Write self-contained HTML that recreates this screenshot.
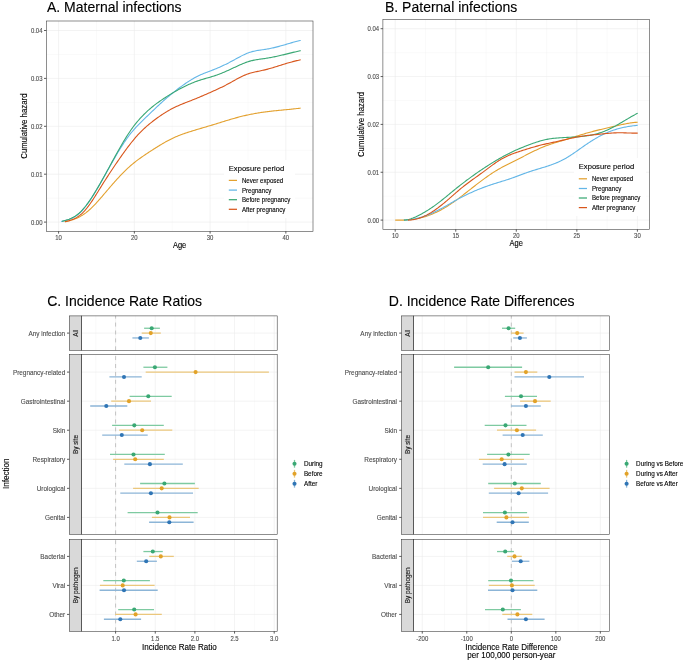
<!DOCTYPE html>
<html><head><meta charset="utf-8"><style>
html,body{margin:0;padding:0;background:#fff;}
svg{display:block;}
text{font-family:"Liberation Sans", sans-serif;}
svg{will-change:transform;}

</style></head><body>
<svg width="685" height="662" viewBox="0 0 685 662" font-family='"Liberation Sans", sans-serif'>
<rect width="685" height="662" fill="#fff"/>
<text x="47.00" y="11.50" font-size="14.9" fill="#000" text-anchor="start" stroke="#000" stroke-width="0.12" textLength="134.62" lengthAdjust="spacingAndGlyphs">A. Maternal infections</text>
<line x1="46.30" y1="198.15" x2="313.00" y2="198.15" stroke="#F2F2F2" stroke-width="0.4"/>
<line x1="46.30" y1="150.25" x2="313.00" y2="150.25" stroke="#F2F2F2" stroke-width="0.4"/>
<line x1="46.30" y1="102.35" x2="313.00" y2="102.35" stroke="#F2F2F2" stroke-width="0.4"/>
<line x1="46.30" y1="54.45" x2="313.00" y2="54.45" stroke="#F2F2F2" stroke-width="0.4"/>
<line x1="96.47" y1="21.00" x2="96.47" y2="231.30" stroke="#F2F2F2" stroke-width="0.4"/>
<line x1="172.22" y1="21.00" x2="172.22" y2="231.30" stroke="#F2F2F2" stroke-width="0.4"/>
<line x1="247.97" y1="21.00" x2="247.97" y2="231.30" stroke="#F2F2F2" stroke-width="0.4"/>
<line x1="46.30" y1="222.10" x2="313.00" y2="222.10" stroke="#EBEBEB" stroke-width="0.6"/>
<line x1="46.30" y1="174.20" x2="313.00" y2="174.20" stroke="#EBEBEB" stroke-width="0.6"/>
<line x1="46.30" y1="126.30" x2="313.00" y2="126.30" stroke="#EBEBEB" stroke-width="0.6"/>
<line x1="46.30" y1="78.40" x2="313.00" y2="78.40" stroke="#EBEBEB" stroke-width="0.6"/>
<line x1="46.30" y1="30.50" x2="313.00" y2="30.50" stroke="#EBEBEB" stroke-width="0.6"/>
<line x1="58.60" y1="21.00" x2="58.60" y2="231.30" stroke="#EBEBEB" stroke-width="0.6"/>
<line x1="134.35" y1="21.00" x2="134.35" y2="231.30" stroke="#EBEBEB" stroke-width="0.6"/>
<line x1="210.10" y1="21.00" x2="210.10" y2="231.30" stroke="#EBEBEB" stroke-width="0.6"/>
<line x1="285.85" y1="21.00" x2="285.85" y2="231.30" stroke="#EBEBEB" stroke-width="0.6"/>
<rect x="224" y="160" width="71" height="58" fill="#fff"/>
<path d="M64.80,221.80 L65.80,221.60 L66.80,221.38 L67.80,221.15 L68.80,220.90 L69.80,220.63 L70.80,220.34 L71.80,220.04 L72.80,219.71 L73.80,219.36 L74.80,218.98 L75.80,218.57 L76.80,218.14 L77.80,217.69 L78.80,217.20 L79.80,216.68 L80.80,216.12 L81.80,215.53 L82.80,214.91 L83.80,214.25 L84.80,213.56 L85.80,212.82 L86.80,212.04 L87.80,211.23 L88.80,210.37 L89.80,209.48 L90.80,208.56 L91.80,207.60 L92.80,206.62 L93.80,205.60 L94.80,204.57 L95.80,203.51 L96.80,202.42 L97.80,201.32 L98.80,200.20 L99.80,199.07 L100.80,197.93 L101.80,196.77 L102.80,195.61 L103.80,194.44 L104.80,193.26 L105.80,192.09 L106.80,190.91 L107.80,189.74 L108.80,188.57 L109.80,187.40 L110.80,186.24 L111.80,185.09 L112.80,183.94 L113.80,182.81 L114.80,181.68 L115.80,180.56 L116.80,179.45 L117.80,178.36 L118.80,177.27 L119.80,176.20 L120.80,175.14 L121.80,174.10 L122.80,173.07 L123.80,172.06 L124.80,171.07 L125.80,170.10 L126.80,169.14 L127.80,168.20 L128.80,167.29 L129.80,166.39 L130.80,165.52 L131.80,164.67 L132.80,163.83 L133.80,163.02 L134.80,162.22 L135.80,161.43 L136.80,160.67 L137.80,159.91 L138.80,159.17 L139.80,158.45 L140.80,157.73 L141.80,157.03 L142.80,156.33 L143.80,155.65 L144.80,154.97 L145.80,154.30 L146.80,153.63 L147.80,152.97 L148.80,152.31 L149.80,151.66 L150.80,151.01 L151.80,150.36 L152.80,149.72 L153.80,149.07 L154.80,148.43 L155.80,147.80 L156.80,147.17 L157.80,146.54 L158.80,145.92 L159.80,145.31 L160.80,144.70 L161.80,144.10 L162.80,143.51 L163.80,142.93 L164.80,142.36 L165.80,141.79 L166.80,141.24 L167.80,140.70 L168.80,140.17 L169.80,139.66 L170.80,139.15 L171.80,138.66 L172.80,138.19 L173.80,137.72 L174.80,137.27 L175.80,136.84 L176.80,136.41 L177.80,136.00 L178.80,135.60 L179.80,135.21 L180.80,134.82 L181.80,134.45 L182.80,134.09 L183.80,133.73 L184.80,133.38 L185.80,133.04 L186.80,132.71 L187.80,132.38 L188.80,132.05 L189.80,131.73 L190.80,131.42 L191.80,131.11 L192.80,130.80 L193.80,130.49 L194.80,130.19 L195.80,129.89 L196.80,129.59 L197.80,129.29 L198.80,128.99 L199.80,128.70 L200.80,128.40 L201.80,128.11 L202.80,127.81 L203.80,127.52 L204.80,127.22 L205.80,126.93 L206.80,126.64 L207.80,126.34 L208.80,126.05 L209.80,125.75 L210.80,125.45 L211.80,125.15 L212.80,124.85 L213.80,124.55 L214.80,124.25 L215.80,123.94 L216.80,123.63 L217.80,123.32 L218.80,123.01 L219.80,122.70 L220.80,122.39 L221.80,122.08 L222.80,121.77 L223.80,121.46 L224.80,121.15 L225.80,120.84 L226.80,120.53 L227.80,120.23 L228.80,119.92 L229.80,119.62 L230.80,119.32 L231.80,119.03 L232.80,118.74 L233.80,118.45 L234.80,118.17 L235.80,117.89 L236.80,117.62 L237.80,117.35 L238.80,117.08 L239.80,116.82 L240.80,116.57 L241.80,116.32 L242.80,116.08 L243.80,115.84 L244.80,115.61 L245.80,115.38 L246.80,115.15 L247.80,114.94 L248.80,114.72 L249.80,114.51 L250.80,114.31 L251.80,114.11 L252.80,113.92 L253.80,113.73 L254.80,113.55 L255.80,113.37 L256.80,113.20 L257.80,113.03 L258.80,112.87 L259.80,112.71 L260.80,112.56 L261.80,112.41 L262.80,112.27 L263.80,112.13 L264.80,111.99 L265.80,111.86 L266.80,111.73 L267.80,111.61 L268.80,111.49 L269.80,111.37 L270.80,111.25 L271.80,111.14 L272.80,111.03 L273.80,110.92 L274.80,110.82 L275.80,110.71 L276.80,110.61 L277.80,110.51 L278.80,110.41 L279.80,110.31 L280.80,110.21 L281.80,110.11 L282.80,110.02 L283.80,109.92 L284.80,109.82 L285.80,109.72 L286.80,109.63 L287.80,109.53 L288.80,109.43 L289.80,109.33 L290.80,109.23 L291.80,109.12 L292.80,109.02 L293.80,108.91 L294.80,108.80 L295.80,108.69 L296.80,108.57 L297.80,108.45 L298.80,108.33 L299.80,108.21 L300.60,108.10" fill="none" stroke="#E3A12F" stroke-width="1.1" stroke-linejoin="round" stroke-linecap="butt"/>
<path d="M61.10,221.50 L62.10,221.28 L63.10,221.05 L64.10,220.82 L65.10,220.57 L66.10,220.31 L67.10,220.03 L68.10,219.73 L69.10,219.40 L70.10,219.03 L71.10,218.63 L72.10,218.18 L73.10,217.69 L74.10,217.15 L75.10,216.55 L76.10,215.90 L77.10,215.18 L78.10,214.39 L79.10,213.53 L80.10,212.61 L81.10,211.61 L82.10,210.55 L83.10,209.43 L84.10,208.25 L85.10,207.02 L86.10,205.73 L87.10,204.39 L88.10,203.00 L89.10,201.58 L90.10,200.10 L91.10,198.59 L92.10,197.05 L93.10,195.47 L94.10,193.86 L95.10,192.22 L96.10,190.56 L97.10,188.88 L98.10,187.18 L99.10,185.46 L100.10,183.72 L101.10,181.97 L102.10,180.21 L103.10,178.43 L104.10,176.65 L105.10,174.87 L106.10,173.08 L107.10,171.29 L108.10,169.50 L109.10,167.71 L110.10,165.93 L111.10,164.15 L112.10,162.39 L113.10,160.63 L114.10,158.89 L115.10,157.16 L116.10,155.45 L117.10,153.76 L118.10,152.08 L119.10,150.43 L120.10,148.80 L121.10,147.20 L122.10,145.62 L123.10,144.08 L124.10,142.56 L125.10,141.08 L126.10,139.63 L127.10,138.21 L128.10,136.84 L129.10,135.50 L130.10,134.20 L131.10,132.95 L132.10,131.73 L133.10,130.55 L134.10,129.40 L135.10,128.28 L136.10,127.18 L137.10,126.12 L138.10,125.07 L139.10,124.05 L140.10,123.04 L141.10,122.05 L142.10,121.07 L143.10,120.10 L144.10,119.14 L145.10,118.18 L146.10,117.22 L147.10,116.26 L148.10,115.30 L149.10,114.34 L150.10,113.38 L151.10,112.42 L152.10,111.46 L153.10,110.51 L154.10,109.55 L155.10,108.60 L156.10,107.65 L157.10,106.71 L158.10,105.77 L159.10,104.84 L160.10,103.91 L161.10,102.99 L162.10,102.08 L163.10,101.18 L164.10,100.28 L165.10,99.40 L166.10,98.53 L167.10,97.66 L168.10,96.81 L169.10,95.96 L170.10,95.13 L171.10,94.30 L172.10,93.49 L173.10,92.68 L174.10,91.89 L175.10,91.10 L176.10,90.32 L177.10,89.55 L178.10,88.79 L179.10,88.04 L180.10,87.30 L181.10,86.57 L182.10,85.85 L183.10,85.13 L184.10,84.43 L185.10,83.74 L186.10,83.06 L187.10,82.39 L188.10,81.74 L189.10,81.09 L190.10,80.47 L191.10,79.85 L192.10,79.25 L193.10,78.67 L194.10,78.10 L195.10,77.55 L196.10,77.02 L197.10,76.50 L198.10,76.00 L199.10,75.52 L200.10,75.06 L201.10,74.62 L202.10,74.18 L203.10,73.76 L204.10,73.35 L205.10,72.95 L206.10,72.56 L207.10,72.17 L208.10,71.79 L209.10,71.41 L210.10,71.03 L211.10,70.65 L212.10,70.27 L213.10,69.88 L214.10,69.49 L215.10,69.09 L216.10,68.68 L217.10,68.27 L218.10,67.84 L219.10,67.41 L220.10,66.97 L221.10,66.52 L222.10,66.06 L223.10,65.59 L224.10,65.12 L225.10,64.63 L226.10,64.14 L227.10,63.64 L228.10,63.14 L229.10,62.62 L230.10,62.10 L231.10,61.57 L232.10,61.04 L233.10,60.49 L234.10,59.94 L235.10,59.39 L236.10,58.84 L237.10,58.28 L238.10,57.74 L239.10,57.19 L240.10,56.66 L241.10,56.13 L242.10,55.62 L243.10,55.12 L244.10,54.64 L245.10,54.18 L246.10,53.74 L247.10,53.32 L248.10,52.93 L249.10,52.57 L250.10,52.23 L251.10,51.93 L252.10,51.65 L253.10,51.40 L254.10,51.17 L255.10,50.96 L256.10,50.76 L257.10,50.58 L258.10,50.41 L259.10,50.25 L260.10,50.10 L261.10,49.95 L262.10,49.81 L263.10,49.67 L264.10,49.52 L265.10,49.37 L266.10,49.21 L267.10,49.04 L268.10,48.87 L269.10,48.68 L270.10,48.48 L271.10,48.28 L272.10,48.06 L273.10,47.84 L274.10,47.61 L275.10,47.37 L276.10,47.13 L277.10,46.87 L278.10,46.61 L279.10,46.35 L280.10,46.08 L281.10,45.80 L282.10,45.52 L283.10,45.24 L284.10,44.95 L285.10,44.66 L286.10,44.37 L287.10,44.07 L288.10,43.77 L289.10,43.48 L290.10,43.18 L291.10,42.89 L292.10,42.61 L293.10,42.32 L294.10,42.05 L295.10,41.77 L296.10,41.51 L297.10,41.26 L298.10,41.01 L299.10,40.78 L300.10,40.55 L300.70,40.42" fill="none" stroke="#63B6E7" stroke-width="1.1" stroke-linejoin="round" stroke-linecap="butt"/>
<path d="M62.10,221.40 L63.10,221.12 L64.10,220.83 L65.10,220.53 L66.10,220.22 L67.10,219.89 L68.10,219.54 L69.10,219.16 L70.10,218.75 L71.10,218.32 L72.10,217.84 L73.10,217.33 L74.10,216.76 L75.10,216.16 L76.10,215.49 L77.10,214.78 L78.10,214.00 L79.10,213.16 L80.10,212.25 L81.10,211.27 L82.10,210.23 L83.10,209.13 L84.10,207.98 L85.10,206.76 L86.10,205.50 L87.10,204.18 L88.10,202.82 L89.10,201.41 L90.10,199.96 L91.10,198.47 L92.10,196.94 L93.10,195.37 L94.10,193.78 L95.10,192.15 L96.10,190.50 L97.10,188.82 L98.10,187.12 L99.10,185.39 L100.10,183.65 L101.10,181.89 L102.10,180.12 L103.10,178.33 L104.10,176.53 L105.10,174.71 L106.10,172.89 L107.10,171.06 L108.10,169.23 L109.10,167.39 L110.10,165.55 L111.10,163.71 L112.10,161.87 L113.10,160.04 L114.10,158.21 L115.10,156.38 L116.10,154.57 L117.10,152.76 L118.10,150.97 L119.10,149.20 L120.10,147.44 L121.10,145.70 L122.10,143.98 L123.10,142.28 L124.10,140.61 L125.10,138.97 L126.10,137.36 L127.10,135.77 L128.10,134.22 L129.10,132.71 L130.10,131.23 L131.10,129.79 L132.10,128.39 L133.10,127.02 L134.10,125.70 L135.10,124.41 L136.10,123.15 L137.10,121.93 L138.10,120.74 L139.10,119.59 L140.10,118.46 L141.10,117.36 L142.10,116.30 L143.10,115.26 L144.10,114.25 L145.10,113.27 L146.10,112.31 L147.10,111.37 L148.10,110.46 L149.10,109.57 L150.10,108.71 L151.10,107.86 L152.10,107.03 L153.10,106.23 L154.10,105.44 L155.10,104.66 L156.10,103.91 L157.10,103.17 L158.10,102.44 L159.10,101.72 L160.10,101.02 L161.10,100.33 L162.10,99.65 L163.10,98.98 L164.10,98.32 L165.10,97.67 L166.10,97.02 L167.10,96.38 L168.10,95.75 L169.10,95.12 L170.10,94.51 L171.10,93.90 L172.10,93.30 L173.10,92.70 L174.10,92.12 L175.10,91.54 L176.10,90.97 L177.10,90.41 L178.10,89.86 L179.10,89.31 L180.10,88.78 L181.10,88.25 L182.10,87.73 L183.10,87.22 L184.10,86.72 L185.10,86.22 L186.10,85.74 L187.10,85.27 L188.10,84.80 L189.10,84.35 L190.10,83.91 L191.10,83.48 L192.10,83.05 L193.10,82.64 L194.10,82.25 L195.10,81.86 L196.10,81.49 L197.10,81.12 L198.10,80.77 L199.10,80.44 L200.10,80.11 L201.10,79.80 L202.10,79.49 L203.10,79.19 L204.10,78.90 L205.10,78.61 L206.10,78.32 L207.10,78.04 L208.10,77.76 L209.10,77.47 L210.10,77.18 L211.10,76.89 L212.10,76.58 L213.10,76.28 L214.10,75.96 L215.10,75.63 L216.10,75.29 L217.10,74.93 L218.10,74.57 L219.10,74.19 L220.10,73.80 L221.10,73.41 L222.10,73.00 L223.10,72.58 L224.10,72.16 L225.10,71.73 L226.10,71.29 L227.10,70.84 L228.10,70.39 L229.10,69.94 L230.10,69.48 L231.10,69.01 L232.10,68.55 L233.10,68.08 L234.10,67.61 L235.10,67.13 L236.10,66.67 L237.10,66.20 L238.10,65.74 L239.10,65.28 L240.10,64.83 L241.10,64.40 L242.10,63.97 L243.10,63.55 L244.10,63.15 L245.10,62.76 L246.10,62.39 L247.10,62.04 L248.10,61.71 L249.10,61.40 L250.10,61.11 L251.10,60.84 L252.10,60.59 L253.10,60.37 L254.10,60.16 L255.10,59.96 L256.10,59.78 L257.10,59.61 L258.10,59.45 L259.10,59.30 L260.10,59.15 L261.10,59.01 L262.10,58.87 L263.10,58.73 L264.10,58.59 L265.10,58.44 L266.10,58.30 L267.10,58.14 L268.10,57.98 L269.10,57.81 L270.10,57.63 L271.10,57.45 L272.10,57.26 L273.10,57.06 L274.10,56.86 L275.10,56.65 L276.10,56.44 L277.10,56.22 L278.10,56.00 L279.10,55.78 L280.10,55.55 L281.10,55.32 L282.10,55.08 L283.10,54.85 L284.10,54.61 L285.10,54.36 L286.10,54.12 L287.10,53.88 L288.10,53.63 L289.10,53.38 L290.10,53.14 L291.10,52.89 L292.10,52.64 L293.10,52.40 L294.10,52.15 L295.10,51.91 L296.10,51.67 L297.10,51.43 L298.10,51.20 L299.10,50.96 L300.10,50.73 L300.70,50.60" fill="none" stroke="#3AA874" stroke-width="1.1" stroke-linejoin="round" stroke-linecap="butt"/>
<path d="M64.80,221.80 L65.80,221.55 L66.80,221.29 L67.80,221.01 L68.80,220.73 L69.80,220.42 L70.80,220.09 L71.80,219.73 L72.80,219.33 L73.80,218.91 L74.80,218.44 L75.80,217.92 L76.80,217.36 L77.80,216.74 L78.80,216.07 L79.80,215.34 L80.80,214.54 L81.80,213.67 L82.80,212.73 L83.80,211.72 L84.80,210.63 L85.80,209.47 L86.80,208.24 L87.80,206.96 L88.80,205.62 L89.80,204.24 L90.80,202.80 L91.80,201.33 L92.80,199.83 L93.80,198.29 L94.80,196.73 L95.80,195.15 L96.80,193.55 L97.80,191.94 L98.80,190.33 L99.80,188.71 L100.80,187.10 L101.80,185.50 L102.80,183.91 L103.80,182.32 L104.80,180.75 L105.80,179.19 L106.80,177.63 L107.80,176.09 L108.80,174.56 L109.80,173.03 L110.80,171.51 L111.80,170.01 L112.80,168.51 L113.80,167.02 L114.80,165.54 L115.80,164.06 L116.80,162.60 L117.80,161.15 L118.80,159.70 L119.80,158.26 L120.80,156.83 L121.80,155.41 L122.80,154.00 L123.80,152.60 L124.80,151.22 L125.80,149.85 L126.80,148.50 L127.80,147.16 L128.80,145.85 L129.80,144.55 L130.80,143.27 L131.80,142.01 L132.80,140.78 L133.80,139.57 L134.80,138.38 L135.80,137.22 L136.80,136.09 L137.80,134.98 L138.80,133.91 L139.80,132.86 L140.80,131.84 L141.80,130.84 L142.80,129.87 L143.80,128.92 L144.80,128.00 L145.80,127.09 L146.80,126.21 L147.80,125.35 L148.80,124.50 L149.80,123.68 L150.80,122.87 L151.80,122.07 L152.80,121.29 L153.80,120.52 L154.80,119.77 L155.80,119.03 L156.80,118.29 L157.80,117.57 L158.80,116.86 L159.80,116.17 L160.80,115.48 L161.80,114.81 L162.80,114.14 L163.80,113.50 L164.80,112.86 L165.80,112.24 L166.80,111.63 L167.80,111.03 L168.80,110.45 L169.80,109.89 L170.80,109.34 L171.80,108.80 L172.80,108.28 L173.80,107.77 L174.80,107.28 L175.80,106.80 L176.80,106.34 L177.80,105.89 L178.80,105.45 L179.80,105.02 L180.80,104.60 L181.80,104.18 L182.80,103.78 L183.80,103.38 L184.80,102.98 L185.80,102.59 L186.80,102.20 L187.80,101.81 L188.80,101.42 L189.80,101.03 L190.80,100.64 L191.80,100.25 L192.80,99.86 L193.80,99.45 L194.80,99.05 L195.80,98.64 L196.80,98.23 L197.80,97.82 L198.80,97.40 L199.80,96.98 L200.80,96.56 L201.80,96.13 L202.80,95.70 L203.80,95.27 L204.80,94.84 L205.80,94.41 L206.80,93.97 L207.80,93.53 L208.80,93.09 L209.80,92.65 L210.80,92.21 L211.80,91.76 L212.80,91.32 L213.80,90.87 L214.80,90.42 L215.80,89.96 L216.80,89.50 L217.80,89.04 L218.80,88.57 L219.80,88.10 L220.80,87.62 L221.80,87.14 L222.80,86.64 L223.80,86.14 L224.80,85.64 L225.80,85.12 L226.80,84.60 L227.80,84.07 L228.80,83.53 L229.80,82.98 L230.80,82.42 L231.80,81.86 L232.80,81.30 L233.80,80.74 L234.80,80.18 L235.80,79.62 L236.80,79.07 L237.80,78.53 L238.80,77.99 L239.80,77.47 L240.80,76.97 L241.80,76.47 L242.80,76.00 L243.80,75.55 L244.80,75.12 L245.80,74.71 L246.80,74.33 L247.80,73.97 L248.80,73.64 L249.80,73.33 L250.80,73.04 L251.80,72.77 L252.80,72.51 L253.80,72.27 L254.80,72.03 L255.80,71.81 L256.80,71.59 L257.80,71.38 L258.80,71.17 L259.80,70.96 L260.80,70.75 L261.80,70.54 L262.80,70.32 L263.80,70.10 L264.80,69.86 L265.80,69.62 L266.80,69.36 L267.80,69.10 L268.80,68.82 L269.80,68.54 L270.80,68.26 L271.80,67.96 L272.80,67.66 L273.80,67.36 L274.80,67.05 L275.80,66.74 L276.80,66.43 L277.80,66.11 L278.80,65.80 L279.80,65.48 L280.80,65.17 L281.80,64.86 L282.80,64.54 L283.80,64.24 L284.80,63.93 L285.80,63.63 L286.80,63.33 L287.80,63.04 L288.80,62.75 L289.80,62.47 L290.80,62.19 L291.80,61.92 L292.80,61.65 L293.80,61.39 L294.80,61.14 L295.80,60.89 L296.80,60.65 L297.80,60.43 L298.80,60.20 L299.80,59.99 L300.70,59.81" fill="none" stroke="#D8561C" stroke-width="1.1" stroke-linejoin="round" stroke-linecap="butt"/>
<rect x="46.3" y="21.0" width="266.7" height="210.3" fill="none" stroke="#333333" stroke-width="0.55"/>
<line x1="44.00" y1="222.10" x2="46.30" y2="222.10" stroke="#333333" stroke-width="0.8"/>
<text x="42.50" y="224.60" font-size="6.8" fill="#4D4D4D" text-anchor="end" stroke="#4D4D4D" stroke-width="0.12" textLength="11.58" lengthAdjust="spacingAndGlyphs">0.00</text>
<line x1="44.00" y1="174.20" x2="46.30" y2="174.20" stroke="#333333" stroke-width="0.8"/>
<text x="42.50" y="176.70" font-size="6.8" fill="#4D4D4D" text-anchor="end" stroke="#4D4D4D" stroke-width="0.12" textLength="11.58" lengthAdjust="spacingAndGlyphs">0.01</text>
<line x1="44.00" y1="126.30" x2="46.30" y2="126.30" stroke="#333333" stroke-width="0.8"/>
<text x="42.50" y="128.80" font-size="6.8" fill="#4D4D4D" text-anchor="end" stroke="#4D4D4D" stroke-width="0.12" textLength="11.58" lengthAdjust="spacingAndGlyphs">0.02</text>
<line x1="44.00" y1="78.40" x2="46.30" y2="78.40" stroke="#333333" stroke-width="0.8"/>
<text x="42.50" y="80.90" font-size="6.8" fill="#4D4D4D" text-anchor="end" stroke="#4D4D4D" stroke-width="0.12" textLength="11.58" lengthAdjust="spacingAndGlyphs">0.03</text>
<line x1="44.00" y1="30.50" x2="46.30" y2="30.50" stroke="#333333" stroke-width="0.8"/>
<text x="42.50" y="33.00" font-size="6.8" fill="#4D4D4D" text-anchor="end" stroke="#4D4D4D" stroke-width="0.12" textLength="11.58" lengthAdjust="spacingAndGlyphs">0.04</text>
<line x1="58.60" y1="231.30" x2="58.60" y2="233.60" stroke="#333333" stroke-width="0.8"/>
<text x="58.60" y="239.60" font-size="6.8" fill="#4D4D4D" text-anchor="middle" stroke="#4D4D4D" stroke-width="0.12" textLength="6.62" lengthAdjust="spacingAndGlyphs">10</text>
<line x1="134.35" y1="231.30" x2="134.35" y2="233.60" stroke="#333333" stroke-width="0.8"/>
<text x="134.35" y="239.60" font-size="6.8" fill="#4D4D4D" text-anchor="middle" stroke="#4D4D4D" stroke-width="0.12" textLength="6.62" lengthAdjust="spacingAndGlyphs">20</text>
<line x1="210.10" y1="231.30" x2="210.10" y2="233.60" stroke="#333333" stroke-width="0.8"/>
<text x="210.10" y="239.60" font-size="6.8" fill="#4D4D4D" text-anchor="middle" stroke="#4D4D4D" stroke-width="0.12" textLength="6.62" lengthAdjust="spacingAndGlyphs">30</text>
<line x1="285.85" y1="231.30" x2="285.85" y2="233.60" stroke="#333333" stroke-width="0.8"/>
<text x="285.85" y="239.60" font-size="6.8" fill="#4D4D4D" text-anchor="middle" stroke="#4D4D4D" stroke-width="0.12" textLength="6.62" lengthAdjust="spacingAndGlyphs">40</text>
<text x="179.55" y="247.80" font-size="8.3" fill="#000" text-anchor="middle" stroke="#000" stroke-width="0.12" textLength="13.34" lengthAdjust="spacingAndGlyphs">Age</text>
<text x="27.50" y="126.15" font-size="8.5" fill="#000" text-anchor="middle" transform="rotate(-90 27.50 126.15)" stroke="#000" stroke-width="0.12" textLength="65.28" lengthAdjust="spacingAndGlyphs">Cumulative hazard</text>
<text x="228.80" y="171.00" font-size="8.1" fill="#000" text-anchor="start" stroke="#000" stroke-width="0.12" textLength="55.35" lengthAdjust="spacingAndGlyphs">Exposure period</text>
<line x1="228.80" y1="180.40" x2="237.00" y2="180.40" stroke="#E3A12F" stroke-width="1.25"/>
<text x="241.90" y="182.80" font-size="7.0" fill="#000" text-anchor="start" stroke="#000" stroke-width="0.12" textLength="41.37" lengthAdjust="spacingAndGlyphs">Never exposed</text>
<line x1="228.80" y1="190.10" x2="237.00" y2="190.10" stroke="#63B6E7" stroke-width="1.25"/>
<text x="241.90" y="192.50" font-size="7.0" fill="#000" text-anchor="start" stroke="#000" stroke-width="0.12" textLength="29.40" lengthAdjust="spacingAndGlyphs">Pregnancy</text>
<line x1="228.80" y1="199.70" x2="237.00" y2="199.70" stroke="#3AA874" stroke-width="1.25"/>
<text x="241.90" y="202.10" font-size="7.0" fill="#000" text-anchor="start" stroke="#000" stroke-width="0.12" textLength="48.55" lengthAdjust="spacingAndGlyphs">Before pregnancy</text>
<line x1="228.80" y1="209.30" x2="237.00" y2="209.30" stroke="#D8561C" stroke-width="1.25"/>
<text x="241.90" y="211.70" font-size="7.0" fill="#000" text-anchor="start" stroke="#000" stroke-width="0.12" textLength="43.42" lengthAdjust="spacingAndGlyphs">After pregnancy</text>
<text x="385.00" y="11.50" font-size="14.9" fill="#000" text-anchor="start" stroke="#000" stroke-width="0.12" textLength="132.30" lengthAdjust="spacingAndGlyphs">B. Paternal infections</text>
<line x1="382.90" y1="196.17" x2="649.50" y2="196.17" stroke="#F2F2F2" stroke-width="0.4"/>
<line x1="382.90" y1="148.32" x2="649.50" y2="148.32" stroke="#F2F2F2" stroke-width="0.4"/>
<line x1="382.90" y1="100.47" x2="649.50" y2="100.47" stroke="#F2F2F2" stroke-width="0.4"/>
<line x1="382.90" y1="52.62" x2="649.50" y2="52.62" stroke="#F2F2F2" stroke-width="0.4"/>
<line x1="425.47" y1="19.40" x2="425.47" y2="229.40" stroke="#F2F2F2" stroke-width="0.4"/>
<line x1="486.02" y1="19.40" x2="486.02" y2="229.40" stroke="#F2F2F2" stroke-width="0.4"/>
<line x1="546.58" y1="19.40" x2="546.58" y2="229.40" stroke="#F2F2F2" stroke-width="0.4"/>
<line x1="607.12" y1="19.40" x2="607.12" y2="229.40" stroke="#F2F2F2" stroke-width="0.4"/>
<line x1="382.90" y1="220.10" x2="649.50" y2="220.10" stroke="#EBEBEB" stroke-width="0.6"/>
<line x1="382.90" y1="172.25" x2="649.50" y2="172.25" stroke="#EBEBEB" stroke-width="0.6"/>
<line x1="382.90" y1="124.40" x2="649.50" y2="124.40" stroke="#EBEBEB" stroke-width="0.6"/>
<line x1="382.90" y1="76.55" x2="649.50" y2="76.55" stroke="#EBEBEB" stroke-width="0.6"/>
<line x1="382.90" y1="28.70" x2="649.50" y2="28.70" stroke="#EBEBEB" stroke-width="0.6"/>
<line x1="395.20" y1="19.40" x2="395.20" y2="229.40" stroke="#EBEBEB" stroke-width="0.6"/>
<line x1="455.75" y1="19.40" x2="455.75" y2="229.40" stroke="#EBEBEB" stroke-width="0.6"/>
<line x1="516.30" y1="19.40" x2="516.30" y2="229.40" stroke="#EBEBEB" stroke-width="0.6"/>
<line x1="576.85" y1="19.40" x2="576.85" y2="229.40" stroke="#EBEBEB" stroke-width="0.6"/>
<line x1="637.40" y1="19.40" x2="637.40" y2="229.40" stroke="#EBEBEB" stroke-width="0.6"/>
<rect x="574" y="158" width="72" height="58" fill="#fff"/>
<path d="M395.20,220.10 L404.00,220.09 L405.00,220.06 L406.00,220.02 L407.00,219.96 L408.00,219.90 L409.00,219.81 L410.00,219.72 L411.00,219.61 L412.00,219.49 L413.00,219.36 L414.00,219.21 L415.00,219.05 L416.00,218.87 L417.00,218.68 L418.00,218.48 L419.00,218.26 L420.00,218.03 L421.00,217.79 L422.00,217.53 L423.00,217.25 L424.00,216.97 L425.00,216.66 L426.00,216.35 L427.00,216.02 L428.00,215.67 L429.00,215.31 L430.00,214.94 L431.00,214.55 L432.00,214.15 L433.00,213.73 L434.00,213.30 L435.00,212.85 L436.00,212.39 L437.00,211.92 L438.00,211.43 L439.00,210.93 L440.00,210.42 L441.00,209.89 L442.00,209.34 L443.00,208.79 L444.00,208.21 L445.00,207.63 L446.00,207.03 L447.00,206.42 L448.00,205.79 L449.00,205.15 L450.00,204.49 L451.00,203.83 L452.00,203.15 L453.00,202.46 L454.00,201.76 L455.00,201.05 L456.00,200.33 L457.00,199.60 L458.00,198.86 L459.00,198.12 L460.00,197.36 L461.00,196.61 L462.00,195.84 L463.00,195.07 L464.00,194.30 L465.00,193.52 L466.00,192.74 L467.00,191.96 L468.00,191.18 L469.00,190.39 L470.00,189.61 L471.00,188.82 L472.00,188.04 L473.00,187.26 L474.00,186.48 L475.00,185.70 L476.00,184.92 L477.00,184.15 L478.00,183.38 L479.00,182.62 L480.00,181.86 L481.00,181.11 L482.00,180.36 L483.00,179.62 L484.00,178.89 L485.00,178.16 L486.00,177.44 L487.00,176.73 L488.00,176.02 L489.00,175.33 L490.00,174.65 L491.00,173.97 L492.00,173.31 L493.00,172.66 L494.00,172.02 L495.00,171.39 L496.00,170.77 L497.00,170.17 L498.00,169.57 L499.00,168.99 L500.00,168.42 L501.00,167.86 L502.00,167.31 L503.00,166.77 L504.00,166.23 L505.00,165.70 L506.00,165.18 L507.00,164.67 L508.00,164.16 L509.00,163.65 L510.00,163.15 L511.00,162.65 L512.00,162.15 L513.00,161.65 L514.00,161.16 L515.00,160.66 L516.00,160.17 L517.00,159.67 L518.00,159.17 L519.00,158.67 L520.00,158.17 L521.00,157.67 L522.00,157.16 L523.00,156.65 L524.00,156.13 L525.00,155.62 L526.00,155.11 L527.00,154.60 L528.00,154.09 L529.00,153.58 L530.00,153.08 L531.00,152.58 L532.00,152.08 L533.00,151.59 L534.00,151.10 L535.00,150.61 L536.00,150.14 L537.00,149.67 L538.00,149.21 L539.00,148.75 L540.00,148.31 L541.00,147.87 L542.00,147.45 L543.00,147.03 L544.00,146.63 L545.00,146.24 L546.00,145.86 L547.00,145.48 L548.00,145.12 L549.00,144.76 L550.00,144.42 L551.00,144.08 L552.00,143.74 L553.00,143.41 L554.00,143.09 L555.00,142.78 L556.00,142.46 L557.00,142.15 L558.00,141.85 L559.00,141.55 L560.00,141.25 L561.00,140.95 L562.00,140.65 L563.00,140.35 L564.00,140.05 L565.00,139.76 L566.00,139.46 L567.00,139.15 L568.00,138.85 L569.00,138.54 L570.00,138.24 L571.00,137.93 L572.00,137.62 L573.00,137.31 L574.00,137.00 L575.00,136.69 L576.00,136.37 L577.00,136.06 L578.00,135.75 L579.00,135.45 L580.00,135.14 L581.00,134.83 L582.00,134.53 L583.00,134.23 L584.00,133.93 L585.00,133.63 L586.00,133.34 L587.00,133.05 L588.00,132.77 L589.00,132.48 L590.00,132.21 L591.00,131.93 L592.00,131.67 L593.00,131.40 L594.00,131.14 L595.00,130.89 L596.00,130.63 L597.00,130.38 L598.00,130.14 L599.00,129.90 L600.00,129.65 L601.00,129.42 L602.00,129.18 L603.00,128.95 L604.00,128.71 L605.00,128.48 L606.00,128.25 L607.00,128.02 L608.00,127.79 L609.00,127.56 L610.00,127.33 L611.00,127.10 L612.00,126.87 L613.00,126.64 L614.00,126.41 L615.00,126.18 L616.00,125.95 L617.00,125.71 L618.00,125.48 L619.00,125.25 L620.00,125.02 L621.00,124.80 L622.00,124.58 L623.00,124.36 L624.00,124.15 L625.00,123.95 L626.00,123.75 L627.00,123.57 L628.00,123.38 L629.00,123.21 L630.00,123.05 L631.00,122.90 L632.00,122.76 L633.00,122.64 L634.00,122.52 L635.00,122.42 L636.00,122.34 L637.00,122.27 L637.70,122.23" fill="none" stroke="#E3A12F" stroke-width="1.1" stroke-linejoin="round" stroke-linecap="butt"/>
<path d="M404.00,220.10 L404.00,220.09 L405.00,220.06 L406.00,220.01 L407.00,219.94 L408.00,219.85 L409.00,219.75 L410.00,219.63 L411.00,219.49 L412.00,219.34 L413.00,219.17 L414.00,218.98 L415.00,218.78 L416.00,218.57 L417.00,218.34 L418.00,218.09 L419.00,217.83 L420.00,217.56 L421.00,217.27 L422.00,216.97 L423.00,216.66 L424.00,216.33 L425.00,215.99 L426.00,215.63 L427.00,215.26 L428.00,214.88 L429.00,214.48 L430.00,214.07 L431.00,213.65 L432.00,213.21 L433.00,212.77 L434.00,212.31 L435.00,211.83 L436.00,211.35 L437.00,210.85 L438.00,210.34 L439.00,209.82 L440.00,209.29 L441.00,208.75 L442.00,208.20 L443.00,207.64 L444.00,207.08 L445.00,206.51 L446.00,205.94 L447.00,205.36 L448.00,204.78 L449.00,204.20 L450.00,203.62 L451.00,203.05 L452.00,202.47 L453.00,201.90 L454.00,201.33 L455.00,200.76 L456.00,200.20 L457.00,199.65 L458.00,199.11 L459.00,198.57 L460.00,198.04 L461.00,197.51 L462.00,197.00 L463.00,196.48 L464.00,195.98 L465.00,195.48 L466.00,194.99 L467.00,194.51 L468.00,194.03 L469.00,193.56 L470.00,193.09 L471.00,192.63 L472.00,192.18 L473.00,191.73 L474.00,191.30 L475.00,190.86 L476.00,190.44 L477.00,190.02 L478.00,189.60 L479.00,189.20 L480.00,188.80 L481.00,188.40 L482.00,188.01 L483.00,187.63 L484.00,187.26 L485.00,186.88 L486.00,186.52 L487.00,186.16 L488.00,185.81 L489.00,185.46 L490.00,185.12 L491.00,184.78 L492.00,184.45 L493.00,184.13 L494.00,183.81 L495.00,183.49 L496.00,183.18 L497.00,182.87 L498.00,182.56 L499.00,182.25 L500.00,181.95 L501.00,181.64 L502.00,181.34 L503.00,181.03 L504.00,180.72 L505.00,180.40 L506.00,180.09 L507.00,179.77 L508.00,179.44 L509.00,179.11 L510.00,178.77 L511.00,178.43 L512.00,178.08 L513.00,177.72 L514.00,177.36 L515.00,176.99 L516.00,176.62 L517.00,176.25 L518.00,175.87 L519.00,175.50 L520.00,175.12 L521.00,174.75 L522.00,174.38 L523.00,174.01 L524.00,173.64 L525.00,173.27 L526.00,172.91 L527.00,172.56 L528.00,172.21 L529.00,171.87 L530.00,171.54 L531.00,171.21 L532.00,170.89 L533.00,170.58 L534.00,170.26 L535.00,169.95 L536.00,169.65 L537.00,169.35 L538.00,169.04 L539.00,168.74 L540.00,168.44 L541.00,168.14 L542.00,167.84 L543.00,167.53 L544.00,167.22 L545.00,166.91 L546.00,166.60 L547.00,166.28 L548.00,165.95 L549.00,165.62 L550.00,165.28 L551.00,164.93 L552.00,164.57 L553.00,164.21 L554.00,163.83 L555.00,163.44 L556.00,163.04 L557.00,162.62 L558.00,162.19 L559.00,161.75 L560.00,161.29 L561.00,160.82 L562.00,160.32 L563.00,159.81 L564.00,159.28 L565.00,158.73 L566.00,158.16 L567.00,157.57 L568.00,156.96 L569.00,156.34 L570.00,155.70 L571.00,155.05 L572.00,154.38 L573.00,153.71 L574.00,153.02 L575.00,152.33 L576.00,151.64 L577.00,150.93 L578.00,150.23 L579.00,149.52 L580.00,148.81 L581.00,148.11 L582.00,147.40 L583.00,146.70 L584.00,146.00 L585.00,145.32 L586.00,144.63 L587.00,143.95 L588.00,143.29 L589.00,142.62 L590.00,141.97 L591.00,141.33 L592.00,140.69 L593.00,140.07 L594.00,139.46 L595.00,138.85 L596.00,138.26 L597.00,137.69 L598.00,137.12 L599.00,136.57 L600.00,136.03 L601.00,135.51 L602.00,135.00 L603.00,134.50 L604.00,134.02 L605.00,133.56 L606.00,133.11 L607.00,132.67 L608.00,132.25 L609.00,131.84 L610.00,131.45 L611.00,131.07 L612.00,130.70 L613.00,130.35 L614.00,130.01 L615.00,129.69 L616.00,129.37 L617.00,129.07 L618.00,128.79 L619.00,128.51 L620.00,128.25 L621.00,128.00 L622.00,127.76 L623.00,127.53 L624.00,127.32 L625.00,127.11 L626.00,126.92 L627.00,126.73 L628.00,126.56 L629.00,126.39 L630.00,126.24 L631.00,126.09 L632.00,125.95 L633.00,125.82 L634.00,125.69 L635.00,125.58 L636.00,125.47 L637.00,125.36 L637.70,125.29" fill="none" stroke="#63B6E7" stroke-width="1.1" stroke-linejoin="round" stroke-linecap="butt"/>
<path d="M404.00,220.10 L404.00,220.10 L405.00,220.01 L406.00,219.89 L407.00,219.72 L408.00,219.51 L409.00,219.27 L410.00,218.99 L411.00,218.68 L412.00,218.33 L413.00,217.96 L414.00,217.56 L415.00,217.14 L416.00,216.70 L417.00,216.23 L418.00,215.75 L419.00,215.25 L420.00,214.73 L421.00,214.20 L422.00,213.66 L423.00,213.10 L424.00,212.53 L425.00,211.94 L426.00,211.34 L427.00,210.73 L428.00,210.11 L429.00,209.47 L430.00,208.82 L431.00,208.15 L432.00,207.48 L433.00,206.79 L434.00,206.08 L435.00,205.37 L436.00,204.64 L437.00,203.90 L438.00,203.15 L439.00,202.39 L440.00,201.62 L441.00,200.83 L442.00,200.04 L443.00,199.24 L444.00,198.44 L445.00,197.63 L446.00,196.81 L447.00,195.99 L448.00,195.17 L449.00,194.34 L450.00,193.52 L451.00,192.69 L452.00,191.87 L453.00,191.05 L454.00,190.23 L455.00,189.41 L456.00,188.60 L457.00,187.80 L458.00,187.00 L459.00,186.21 L460.00,185.42 L461.00,184.64 L462.00,183.86 L463.00,183.09 L464.00,182.33 L465.00,181.57 L466.00,180.81 L467.00,180.06 L468.00,179.32 L469.00,178.58 L470.00,177.85 L471.00,177.12 L472.00,176.40 L473.00,175.68 L474.00,174.97 L475.00,174.26 L476.00,173.56 L477.00,172.86 L478.00,172.17 L479.00,171.48 L480.00,170.80 L481.00,170.12 L482.00,169.45 L483.00,168.78 L484.00,168.12 L485.00,167.46 L486.00,166.81 L487.00,166.17 L488.00,165.53 L489.00,164.89 L490.00,164.26 L491.00,163.63 L492.00,163.01 L493.00,162.40 L494.00,161.79 L495.00,161.18 L496.00,160.59 L497.00,159.99 L498.00,159.41 L499.00,158.83 L500.00,158.25 L501.00,157.69 L502.00,157.13 L503.00,156.57 L504.00,156.03 L505.00,155.49 L506.00,154.96 L507.00,154.43 L508.00,153.92 L509.00,153.41 L510.00,152.92 L511.00,152.43 L512.00,151.94 L513.00,151.47 L514.00,151.01 L515.00,150.55 L516.00,150.10 L517.00,149.66 L518.00,149.22 L519.00,148.79 L520.00,148.37 L521.00,147.95 L522.00,147.54 L523.00,147.14 L524.00,146.74 L525.00,146.34 L526.00,145.95 L527.00,145.57 L528.00,145.18 L529.00,144.81 L530.00,144.43 L531.00,144.06 L532.00,143.70 L533.00,143.34 L534.00,142.99 L535.00,142.65 L536.00,142.31 L537.00,141.99 L538.00,141.67 L539.00,141.36 L540.00,141.06 L541.00,140.78 L542.00,140.51 L543.00,140.25 L544.00,140.00 L545.00,139.76 L546.00,139.55 L547.00,139.34 L548.00,139.15 L549.00,138.98 L550.00,138.82 L551.00,138.67 L552.00,138.54 L553.00,138.41 L554.00,138.30 L555.00,138.20 L556.00,138.10 L557.00,138.02 L558.00,137.94 L559.00,137.86 L560.00,137.80 L561.00,137.74 L562.00,137.68 L563.00,137.62 L564.00,137.57 L565.00,137.52 L566.00,137.47 L567.00,137.42 L568.00,137.37 L569.00,137.32 L570.00,137.27 L571.00,137.22 L572.00,137.16 L573.00,137.11 L574.00,137.05 L575.00,136.98 L576.00,136.92 L577.00,136.84 L578.00,136.77 L579.00,136.69 L580.00,136.60 L581.00,136.51 L582.00,136.41 L583.00,136.30 L584.00,136.18 L585.00,136.06 L586.00,135.93 L587.00,135.79 L588.00,135.64 L589.00,135.47 L590.00,135.30 L591.00,135.12 L592.00,134.92 L593.00,134.71 L594.00,134.49 L595.00,134.25 L596.00,134.00 L597.00,133.73 L598.00,133.45 L599.00,133.15 L600.00,132.83 L601.00,132.50 L602.00,132.15 L603.00,131.78 L604.00,131.39 L605.00,130.99 L606.00,130.57 L607.00,130.13 L608.00,129.68 L609.00,129.22 L610.00,128.74 L611.00,128.25 L612.00,127.75 L613.00,127.23 L614.00,126.71 L615.00,126.17 L616.00,125.62 L617.00,125.07 L618.00,124.51 L619.00,123.93 L620.00,123.35 L621.00,122.77 L622.00,122.18 L623.00,121.58 L624.00,120.99 L625.00,120.39 L626.00,119.79 L627.00,119.20 L628.00,118.60 L629.00,118.01 L630.00,117.43 L631.00,116.85 L632.00,116.28 L633.00,115.72 L634.00,115.17 L635.00,114.63 L636.00,114.10 L637.00,113.59 L637.70,113.24" fill="none" stroke="#3AA874" stroke-width="1.1" stroke-linejoin="round" stroke-linecap="butt"/>
<path d="M408.00,220.10 L408.00,220.10 L409.00,220.05 L410.00,219.98 L411.00,219.89 L412.00,219.77 L413.00,219.63 L414.00,219.45 L415.00,219.26 L416.00,219.04 L417.00,218.79 L418.00,218.52 L419.00,218.22 L420.00,217.89 L421.00,217.54 L422.00,217.16 L423.00,216.76 L424.00,216.33 L425.00,215.87 L426.00,215.39 L427.00,214.88 L428.00,214.34 L429.00,213.79 L430.00,213.20 L431.00,212.60 L432.00,211.98 L433.00,211.33 L434.00,210.67 L435.00,209.98 L436.00,209.28 L437.00,208.56 L438.00,207.82 L439.00,207.06 L440.00,206.30 L441.00,205.51 L442.00,204.71 L443.00,203.90 L444.00,203.08 L445.00,202.25 L446.00,201.40 L447.00,200.55 L448.00,199.69 L449.00,198.83 L450.00,197.96 L451.00,197.08 L452.00,196.21 L453.00,195.33 L454.00,194.45 L455.00,193.58 L456.00,192.71 L457.00,191.84 L458.00,190.98 L459.00,190.13 L460.00,189.28 L461.00,188.45 L462.00,187.62 L463.00,186.81 L464.00,186.02 L465.00,185.23 L466.00,184.46 L467.00,183.70 L468.00,182.94 L469.00,182.20 L470.00,181.47 L471.00,180.74 L472.00,180.01 L473.00,179.29 L474.00,178.58 L475.00,177.86 L476.00,177.15 L477.00,176.44 L478.00,175.72 L479.00,175.01 L480.00,174.29 L481.00,173.57 L482.00,172.84 L483.00,172.10 L484.00,171.36 L485.00,170.61 L486.00,169.86 L487.00,169.11 L488.00,168.36 L489.00,167.61 L490.00,166.86 L491.00,166.12 L492.00,165.38 L493.00,164.66 L494.00,163.94 L495.00,163.23 L496.00,162.54 L497.00,161.86 L498.00,161.20 L499.00,160.55 L500.00,159.93 L501.00,159.33 L502.00,158.74 L503.00,158.19 L504.00,157.65 L505.00,157.14 L506.00,156.65 L507.00,156.18 L508.00,155.72 L509.00,155.29 L510.00,154.87 L511.00,154.46 L512.00,154.07 L513.00,153.69 L514.00,153.32 L515.00,152.96 L516.00,152.61 L517.00,152.27 L518.00,151.94 L519.00,151.61 L520.00,151.28 L521.00,150.96 L522.00,150.63 L523.00,150.31 L524.00,150.00 L525.00,149.68 L526.00,149.36 L527.00,149.05 L528.00,148.74 L529.00,148.44 L530.00,148.13 L531.00,147.83 L532.00,147.54 L533.00,147.25 L534.00,146.96 L535.00,146.67 L536.00,146.39 L537.00,146.12 L538.00,145.85 L539.00,145.58 L540.00,145.33 L541.00,145.07 L542.00,144.82 L543.00,144.58 L544.00,144.35 L545.00,144.11 L546.00,143.88 L547.00,143.66 L548.00,143.44 L549.00,143.22 L550.00,143.00 L551.00,142.78 L552.00,142.57 L553.00,142.35 L554.00,142.14 L555.00,141.92 L556.00,141.71 L557.00,141.49 L558.00,141.27 L559.00,141.05 L560.00,140.83 L561.00,140.61 L562.00,140.38 L563.00,140.15 L564.00,139.92 L565.00,139.68 L566.00,139.45 L567.00,139.22 L568.00,138.99 L569.00,138.76 L570.00,138.53 L571.00,138.31 L572.00,138.08 L573.00,137.87 L574.00,137.66 L575.00,137.45 L576.00,137.25 L577.00,137.05 L578.00,136.87 L579.00,136.69 L580.00,136.52 L581.00,136.36 L582.00,136.20 L583.00,136.06 L584.00,135.92 L585.00,135.78 L586.00,135.65 L587.00,135.53 L588.00,135.41 L589.00,135.30 L590.00,135.19 L591.00,135.08 L592.00,134.98 L593.00,134.88 L594.00,134.78 L595.00,134.68 L596.00,134.58 L597.00,134.48 L598.00,134.38 L599.00,134.28 L600.00,134.17 L601.00,134.07 L602.00,133.96 L603.00,133.86 L604.00,133.76 L605.00,133.65 L606.00,133.55 L607.00,133.46 L608.00,133.36 L609.00,133.28 L610.00,133.19 L611.00,133.11 L612.00,133.04 L613.00,132.98 L614.00,132.92 L615.00,132.87 L616.00,132.83 L617.00,132.80 L618.00,132.77 L619.00,132.76 L620.00,132.76 L621.00,132.77 L622.00,132.79 L623.00,132.81 L624.00,132.84 L625.00,132.87 L626.00,132.90 L627.00,132.94 L628.00,132.97 L629.00,133.01 L630.00,133.04 L631.00,133.07 L632.00,133.09 L633.00,133.11 L634.00,133.12 L635.00,133.12 L636.00,133.11 L637.00,133.10 L637.70,133.08" fill="none" stroke="#D8561C" stroke-width="1.1" stroke-linejoin="round" stroke-linecap="butt"/>
<rect x="382.9" y="19.4" width="266.6" height="210.0" fill="none" stroke="#333333" stroke-width="0.55"/>
<line x1="380.60" y1="220.10" x2="382.90" y2="220.10" stroke="#333333" stroke-width="0.8"/>
<text x="379.10" y="222.60" font-size="6.8" fill="#4D4D4D" text-anchor="end" stroke="#4D4D4D" stroke-width="0.12" textLength="11.58" lengthAdjust="spacingAndGlyphs">0.00</text>
<line x1="380.60" y1="172.25" x2="382.90" y2="172.25" stroke="#333333" stroke-width="0.8"/>
<text x="379.10" y="174.75" font-size="6.8" fill="#4D4D4D" text-anchor="end" stroke="#4D4D4D" stroke-width="0.12" textLength="11.58" lengthAdjust="spacingAndGlyphs">0.01</text>
<line x1="380.60" y1="124.40" x2="382.90" y2="124.40" stroke="#333333" stroke-width="0.8"/>
<text x="379.10" y="126.90" font-size="6.8" fill="#4D4D4D" text-anchor="end" stroke="#4D4D4D" stroke-width="0.12" textLength="11.58" lengthAdjust="spacingAndGlyphs">0.02</text>
<line x1="380.60" y1="76.55" x2="382.90" y2="76.55" stroke="#333333" stroke-width="0.8"/>
<text x="379.10" y="79.05" font-size="6.8" fill="#4D4D4D" text-anchor="end" stroke="#4D4D4D" stroke-width="0.12" textLength="11.58" lengthAdjust="spacingAndGlyphs">0.03</text>
<line x1="380.60" y1="28.70" x2="382.90" y2="28.70" stroke="#333333" stroke-width="0.8"/>
<text x="379.10" y="31.20" font-size="6.8" fill="#4D4D4D" text-anchor="end" stroke="#4D4D4D" stroke-width="0.12" textLength="11.58" lengthAdjust="spacingAndGlyphs">0.04</text>
<line x1="395.20" y1="229.40" x2="395.20" y2="231.70" stroke="#333333" stroke-width="0.8"/>
<text x="395.20" y="237.80" font-size="6.8" fill="#4D4D4D" text-anchor="middle" stroke="#4D4D4D" stroke-width="0.12" textLength="6.62" lengthAdjust="spacingAndGlyphs">10</text>
<line x1="455.75" y1="229.40" x2="455.75" y2="231.70" stroke="#333333" stroke-width="0.8"/>
<text x="455.75" y="237.80" font-size="6.8" fill="#4D4D4D" text-anchor="middle" stroke="#4D4D4D" stroke-width="0.12" textLength="6.62" lengthAdjust="spacingAndGlyphs">15</text>
<line x1="516.30" y1="229.40" x2="516.30" y2="231.70" stroke="#333333" stroke-width="0.8"/>
<text x="516.30" y="237.80" font-size="6.8" fill="#4D4D4D" text-anchor="middle" stroke="#4D4D4D" stroke-width="0.12" textLength="6.62" lengthAdjust="spacingAndGlyphs">20</text>
<line x1="576.85" y1="229.40" x2="576.85" y2="231.70" stroke="#333333" stroke-width="0.8"/>
<text x="576.85" y="237.80" font-size="6.8" fill="#4D4D4D" text-anchor="middle" stroke="#4D4D4D" stroke-width="0.12" textLength="6.62" lengthAdjust="spacingAndGlyphs">25</text>
<line x1="637.40" y1="229.40" x2="637.40" y2="231.70" stroke="#333333" stroke-width="0.8"/>
<text x="637.40" y="237.80" font-size="6.8" fill="#4D4D4D" text-anchor="middle" stroke="#4D4D4D" stroke-width="0.12" textLength="6.62" lengthAdjust="spacingAndGlyphs">30</text>
<text x="516.20" y="245.90" font-size="8.3" fill="#000" text-anchor="middle" stroke="#000" stroke-width="0.12" textLength="13.34" lengthAdjust="spacingAndGlyphs">Age</text>
<text x="363.90" y="124.40" font-size="8.5" fill="#000" text-anchor="middle" transform="rotate(-90 363.90 124.40)" stroke="#000" stroke-width="0.12" textLength="65.28" lengthAdjust="spacingAndGlyphs">Cumulative hazard</text>
<text x="578.80" y="169.30" font-size="8.1" fill="#000" text-anchor="start" stroke="#000" stroke-width="0.12" textLength="55.35" lengthAdjust="spacingAndGlyphs">Exposure period</text>
<line x1="578.80" y1="178.80" x2="587.00" y2="178.80" stroke="#E3A12F" stroke-width="1.25"/>
<text x="591.90" y="181.20" font-size="7.0" fill="#000" text-anchor="start" stroke="#000" stroke-width="0.12" textLength="41.37" lengthAdjust="spacingAndGlyphs">Never exposed</text>
<line x1="578.80" y1="188.50" x2="587.00" y2="188.50" stroke="#63B6E7" stroke-width="1.25"/>
<text x="591.90" y="190.90" font-size="7.0" fill="#000" text-anchor="start" stroke="#000" stroke-width="0.12" textLength="29.40" lengthAdjust="spacingAndGlyphs">Pregnancy</text>
<line x1="578.80" y1="198.00" x2="587.00" y2="198.00" stroke="#3AA874" stroke-width="1.25"/>
<text x="591.90" y="200.40" font-size="7.0" fill="#000" text-anchor="start" stroke="#000" stroke-width="0.12" textLength="48.55" lengthAdjust="spacingAndGlyphs">Before pregnancy</text>
<line x1="578.80" y1="207.60" x2="587.00" y2="207.60" stroke="#D8561C" stroke-width="1.25"/>
<text x="591.90" y="210.00" font-size="7.0" fill="#000" text-anchor="start" stroke="#000" stroke-width="0.12" textLength="43.42" lengthAdjust="spacingAndGlyphs">After pregnancy</text>
<text x="47.20" y="305.80" font-size="14.9" fill="#000" text-anchor="start" stroke="#000" stroke-width="0.12" textLength="154.85" lengthAdjust="spacingAndGlyphs">C. Incidence Rate Ratios</text>
<line x1="95.77" y1="315.90" x2="95.77" y2="350.30" stroke="#F2F2F2" stroke-width="0.4"/>
<line x1="135.42" y1="315.90" x2="135.42" y2="350.30" stroke="#F2F2F2" stroke-width="0.4"/>
<line x1="175.07" y1="315.90" x2="175.07" y2="350.30" stroke="#F2F2F2" stroke-width="0.4"/>
<line x1="214.72" y1="315.90" x2="214.72" y2="350.30" stroke="#F2F2F2" stroke-width="0.4"/>
<line x1="254.38" y1="315.90" x2="254.38" y2="350.30" stroke="#F2F2F2" stroke-width="0.4"/>
<line x1="81.50" y1="333.10" x2="277.20" y2="333.10" stroke="#EBEBEB" stroke-width="0.6"/>
<line x1="115.60" y1="315.90" x2="115.60" y2="350.30" stroke="#EBEBEB" stroke-width="0.6"/>
<line x1="155.25" y1="315.90" x2="155.25" y2="350.30" stroke="#EBEBEB" stroke-width="0.6"/>
<line x1="194.90" y1="315.90" x2="194.90" y2="350.30" stroke="#EBEBEB" stroke-width="0.6"/>
<line x1="234.55" y1="315.90" x2="234.55" y2="350.30" stroke="#EBEBEB" stroke-width="0.6"/>
<line x1="274.20" y1="315.90" x2="274.20" y2="350.30" stroke="#EBEBEB" stroke-width="0.6"/>
<line x1="115.60" y1="350.30" x2="115.60" y2="315.90" stroke="#A0A0A0" stroke-width="0.6" stroke-dasharray="3.96 3.96"/>
<line x1="95.77" y1="354.60" x2="95.77" y2="534.30" stroke="#F2F2F2" stroke-width="0.4"/>
<line x1="135.42" y1="354.60" x2="135.42" y2="534.30" stroke="#F2F2F2" stroke-width="0.4"/>
<line x1="175.07" y1="354.60" x2="175.07" y2="534.30" stroke="#F2F2F2" stroke-width="0.4"/>
<line x1="214.72" y1="354.60" x2="214.72" y2="534.30" stroke="#F2F2F2" stroke-width="0.4"/>
<line x1="254.38" y1="354.60" x2="254.38" y2="534.30" stroke="#F2F2F2" stroke-width="0.4"/>
<line x1="81.50" y1="372.10" x2="277.20" y2="372.10" stroke="#EBEBEB" stroke-width="0.6"/>
<line x1="81.50" y1="401.16" x2="277.20" y2="401.16" stroke="#EBEBEB" stroke-width="0.6"/>
<line x1="81.50" y1="430.22" x2="277.20" y2="430.22" stroke="#EBEBEB" stroke-width="0.6"/>
<line x1="81.50" y1="459.28" x2="277.20" y2="459.28" stroke="#EBEBEB" stroke-width="0.6"/>
<line x1="81.50" y1="488.34" x2="277.20" y2="488.34" stroke="#EBEBEB" stroke-width="0.6"/>
<line x1="81.50" y1="517.40" x2="277.20" y2="517.40" stroke="#EBEBEB" stroke-width="0.6"/>
<line x1="115.60" y1="354.60" x2="115.60" y2="534.30" stroke="#EBEBEB" stroke-width="0.6"/>
<line x1="155.25" y1="354.60" x2="155.25" y2="534.30" stroke="#EBEBEB" stroke-width="0.6"/>
<line x1="194.90" y1="354.60" x2="194.90" y2="534.30" stroke="#EBEBEB" stroke-width="0.6"/>
<line x1="234.55" y1="354.60" x2="234.55" y2="534.30" stroke="#EBEBEB" stroke-width="0.6"/>
<line x1="274.20" y1="354.60" x2="274.20" y2="534.30" stroke="#EBEBEB" stroke-width="0.6"/>
<line x1="115.60" y1="534.30" x2="115.60" y2="354.60" stroke="#A0A0A0" stroke-width="0.6" stroke-dasharray="3.96 3.96"/>
<line x1="95.77" y1="539.30" x2="95.77" y2="631.30" stroke="#F2F2F2" stroke-width="0.4"/>
<line x1="135.42" y1="539.30" x2="135.42" y2="631.30" stroke="#F2F2F2" stroke-width="0.4"/>
<line x1="175.07" y1="539.30" x2="175.07" y2="631.30" stroke="#F2F2F2" stroke-width="0.4"/>
<line x1="214.72" y1="539.30" x2="214.72" y2="631.30" stroke="#F2F2F2" stroke-width="0.4"/>
<line x1="254.38" y1="539.30" x2="254.38" y2="631.30" stroke="#F2F2F2" stroke-width="0.4"/>
<line x1="81.50" y1="556.40" x2="277.20" y2="556.40" stroke="#EBEBEB" stroke-width="0.6"/>
<line x1="81.50" y1="585.40" x2="277.20" y2="585.40" stroke="#EBEBEB" stroke-width="0.6"/>
<line x1="81.50" y1="614.40" x2="277.20" y2="614.40" stroke="#EBEBEB" stroke-width="0.6"/>
<line x1="115.60" y1="539.30" x2="115.60" y2="631.30" stroke="#EBEBEB" stroke-width="0.6"/>
<line x1="155.25" y1="539.30" x2="155.25" y2="631.30" stroke="#EBEBEB" stroke-width="0.6"/>
<line x1="194.90" y1="539.30" x2="194.90" y2="631.30" stroke="#EBEBEB" stroke-width="0.6"/>
<line x1="234.55" y1="539.30" x2="234.55" y2="631.30" stroke="#EBEBEB" stroke-width="0.6"/>
<line x1="274.20" y1="539.30" x2="274.20" y2="631.30" stroke="#EBEBEB" stroke-width="0.6"/>
<line x1="115.60" y1="631.30" x2="115.60" y2="539.30" stroke="#A0A0A0" stroke-width="0.6" stroke-dasharray="3.96 3.96"/>
<line x1="144.10" y1="328.25" x2="159.90" y2="328.25" stroke="#7ECAA1" stroke-width="1.3"/>
<line x1="141.70" y1="333.10" x2="160.80" y2="333.10" stroke="#EBC77C" stroke-width="1.3"/>
<line x1="132.40" y1="337.95" x2="148.90" y2="337.95" stroke="#8CB5D7" stroke-width="1.3"/>
<circle cx="151.7" cy="328.25" r="2.05" fill="#3AA874"/>
<circle cx="150.8" cy="333.10" r="2.05" fill="#E2A228"/>
<circle cx="140.3" cy="337.95" r="2.05" fill="#2F75B5"/>
<line x1="143.40" y1="367.25" x2="167.40" y2="367.25" stroke="#7ECAA1" stroke-width="1.3"/>
<line x1="145.70" y1="372.10" x2="268.90" y2="372.10" stroke="#EBC77C" stroke-width="1.3"/>
<line x1="109.40" y1="376.95" x2="141.70" y2="376.95" stroke="#8CB5D7" stroke-width="1.3"/>
<circle cx="154.9" cy="367.25" r="2.05" fill="#3AA874"/>
<circle cx="195.6" cy="372.10" r="2.05" fill="#E2A228"/>
<circle cx="124" cy="376.95" r="2.05" fill="#2F75B5"/>
<line x1="129.60" y1="396.31" x2="171.70" y2="396.31" stroke="#7ECAA1" stroke-width="1.3"/>
<line x1="111.20" y1="401.16" x2="151.00" y2="401.16" stroke="#EBC77C" stroke-width="1.3"/>
<line x1="90.20" y1="406.01" x2="127.30" y2="406.01" stroke="#8CB5D7" stroke-width="1.3"/>
<circle cx="148.3" cy="396.31" r="2.05" fill="#3AA874"/>
<circle cx="129" cy="401.16" r="2.05" fill="#E2A228"/>
<circle cx="106.3" cy="406.01" r="2.05" fill="#2F75B5"/>
<line x1="112.10" y1="425.37" x2="163.80" y2="425.37" stroke="#7ECAA1" stroke-width="1.3"/>
<line x1="119.10" y1="430.22" x2="172.30" y2="430.22" stroke="#EBC77C" stroke-width="1.3"/>
<line x1="102.20" y1="435.07" x2="147.70" y2="435.07" stroke="#8CB5D7" stroke-width="1.3"/>
<circle cx="134.3" cy="425.37" r="2.05" fill="#3AA874"/>
<circle cx="142.2" cy="430.22" r="2.05" fill="#E2A228"/>
<circle cx="121.8" cy="435.07" r="2.05" fill="#2F75B5"/>
<line x1="110.00" y1="454.43" x2="164.80" y2="454.43" stroke="#7ECAA1" stroke-width="1.3"/>
<line x1="113.10" y1="459.28" x2="163.80" y2="459.28" stroke="#EBC77C" stroke-width="1.3"/>
<line x1="124.30" y1="464.13" x2="182.80" y2="464.13" stroke="#8CB5D7" stroke-width="1.3"/>
<circle cx="133.5" cy="454.43" r="2.05" fill="#3AA874"/>
<circle cx="135.2" cy="459.28" r="2.05" fill="#E2A228"/>
<circle cx="149.9" cy="464.13" r="2.05" fill="#2F75B5"/>
<line x1="140.10" y1="483.49" x2="194.90" y2="483.49" stroke="#7ECAA1" stroke-width="1.3"/>
<line x1="133.10" y1="488.34" x2="198.70" y2="488.34" stroke="#EBC77C" stroke-width="1.3"/>
<line x1="120.30" y1="493.19" x2="193.00" y2="493.19" stroke="#8CB5D7" stroke-width="1.3"/>
<circle cx="164.4" cy="483.49" r="2.05" fill="#3AA874"/>
<circle cx="161.7" cy="488.34" r="2.05" fill="#E2A228"/>
<circle cx="150.9" cy="493.19" r="2.05" fill="#2F75B5"/>
<line x1="127.60" y1="512.55" x2="197.70" y2="512.55" stroke="#7ECAA1" stroke-width="1.3"/>
<line x1="151.90" y1="517.40" x2="190.00" y2="517.40" stroke="#EBC77C" stroke-width="1.3"/>
<line x1="149.10" y1="522.25" x2="193.60" y2="522.25" stroke="#8CB5D7" stroke-width="1.3"/>
<circle cx="157.5" cy="512.55" r="2.05" fill="#3AA874"/>
<circle cx="169.5" cy="517.40" r="2.05" fill="#E2A228"/>
<circle cx="169.3" cy="522.25" r="2.05" fill="#2F75B5"/>
<line x1="143.40" y1="551.55" x2="162.80" y2="551.55" stroke="#7ECAA1" stroke-width="1.3"/>
<line x1="149.30" y1="556.40" x2="173.80" y2="556.40" stroke="#EBC77C" stroke-width="1.3"/>
<line x1="136.80" y1="561.25" x2="156.90" y2="561.25" stroke="#8CB5D7" stroke-width="1.3"/>
<circle cx="152.8" cy="551.55" r="2.05" fill="#3AA874"/>
<circle cx="160.8" cy="556.40" r="2.05" fill="#E2A228"/>
<circle cx="146.2" cy="561.25" r="2.05" fill="#2F75B5"/>
<line x1="103.30" y1="580.55" x2="149.90" y2="580.55" stroke="#7ECAA1" stroke-width="1.3"/>
<line x1="99.90" y1="585.40" x2="154.60" y2="585.40" stroke="#EBC77C" stroke-width="1.3"/>
<line x1="99.60" y1="590.25" x2="157.70" y2="590.25" stroke="#8CB5D7" stroke-width="1.3"/>
<circle cx="123.8" cy="580.55" r="2.05" fill="#3AA874"/>
<circle cx="122.7" cy="585.40" r="2.05" fill="#E2A228"/>
<circle cx="124" cy="590.25" r="2.05" fill="#2F75B5"/>
<line x1="118.20" y1="609.55" x2="154.00" y2="609.55" stroke="#7ECAA1" stroke-width="1.3"/>
<line x1="115.20" y1="614.40" x2="161.80" y2="614.40" stroke="#EBC77C" stroke-width="1.3"/>
<line x1="103.90" y1="619.25" x2="141.10" y2="619.25" stroke="#8CB5D7" stroke-width="1.3"/>
<circle cx="134.2" cy="609.55" r="2.05" fill="#3AA874"/>
<circle cx="135.6" cy="614.40" r="2.05" fill="#E2A228"/>
<circle cx="120.3" cy="619.25" r="2.05" fill="#2F75B5"/>
<rect x="69.3" y="315.9" width="12.200000000000003" height="34.400000000000034" fill="#D9D9D9" stroke="#333333" stroke-width="0.55"/>
<rect x="81.5" y="315.9" width="195.7" height="34.400000000000034" fill="none" stroke="#333333" stroke-width="0.55"/>
<text x="77.80" y="333.10" font-size="6.85" fill="#1A1A1A" text-anchor="middle" transform="rotate(-90 77.80 333.10)" stroke="#1A1A1A" stroke-width="0.12" textLength="7.08" lengthAdjust="spacingAndGlyphs">All</text>
<rect x="69.3" y="354.6" width="12.200000000000003" height="179.69999999999993" fill="#D9D9D9" stroke="#333333" stroke-width="0.55"/>
<rect x="81.5" y="354.6" width="195.7" height="179.69999999999993" fill="none" stroke="#333333" stroke-width="0.55"/>
<text x="77.80" y="444.45" font-size="6.85" fill="#1A1A1A" text-anchor="middle" transform="rotate(-90 77.80 444.45)" stroke="#1A1A1A" stroke-width="0.12" textLength="19.12" lengthAdjust="spacingAndGlyphs">By site</text>
<rect x="69.3" y="539.3" width="12.200000000000003" height="92.0" fill="#D9D9D9" stroke="#333333" stroke-width="0.55"/>
<rect x="81.5" y="539.3" width="195.7" height="92.0" fill="none" stroke="#333333" stroke-width="0.55"/>
<text x="77.80" y="585.30" font-size="6.85" fill="#1A1A1A" text-anchor="middle" transform="rotate(-90 77.80 585.30)" stroke="#1A1A1A" stroke-width="0.12" textLength="35.77" lengthAdjust="spacingAndGlyphs">By pathogen</text>
<line x1="67.00" y1="333.10" x2="69.30" y2="333.10" stroke="#333333" stroke-width="0.8"/>
<text x="65.20" y="335.50" font-size="7.0" fill="#4D4D4D" text-anchor="end" stroke="#4D4D4D" stroke-width="0.12" textLength="36.64" lengthAdjust="spacingAndGlyphs">Any infection</text>
<line x1="67.00" y1="372.10" x2="69.30" y2="372.10" stroke="#333333" stroke-width="0.8"/>
<text x="65.20" y="374.50" font-size="7.0" fill="#4D4D4D" text-anchor="end" stroke="#4D4D4D" stroke-width="0.12" textLength="52.30" lengthAdjust="spacingAndGlyphs">Pregnancy-related</text>
<line x1="67.00" y1="401.16" x2="69.30" y2="401.16" stroke="#333333" stroke-width="0.8"/>
<text x="65.20" y="403.56" font-size="7.0" fill="#4D4D4D" text-anchor="end" stroke="#4D4D4D" stroke-width="0.12" textLength="44.47" lengthAdjust="spacingAndGlyphs">Gastrointestinal</text>
<line x1="67.00" y1="430.22" x2="69.30" y2="430.22" stroke="#333333" stroke-width="0.8"/>
<text x="65.20" y="432.62" font-size="7.0" fill="#4D4D4D" text-anchor="end" stroke="#4D4D4D" stroke-width="0.12" textLength="12.45" lengthAdjust="spacingAndGlyphs">Skin</text>
<line x1="67.00" y1="459.28" x2="69.30" y2="459.28" stroke="#333333" stroke-width="0.8"/>
<text x="65.20" y="461.68" font-size="7.0" fill="#4D4D4D" text-anchor="end" stroke="#4D4D4D" stroke-width="0.12" textLength="32.72" lengthAdjust="spacingAndGlyphs">Respiratory</text>
<line x1="67.00" y1="488.34" x2="69.30" y2="488.34" stroke="#333333" stroke-width="0.8"/>
<text x="65.20" y="490.74" font-size="7.0" fill="#4D4D4D" text-anchor="end" stroke="#4D4D4D" stroke-width="0.12" textLength="28.46" lengthAdjust="spacingAndGlyphs">Urological</text>
<line x1="67.00" y1="517.40" x2="69.30" y2="517.40" stroke="#333333" stroke-width="0.8"/>
<text x="65.20" y="519.80" font-size="7.0" fill="#4D4D4D" text-anchor="end" stroke="#4D4D4D" stroke-width="0.12" textLength="20.28" lengthAdjust="spacingAndGlyphs">Genital</text>
<line x1="67.00" y1="556.40" x2="69.30" y2="556.40" stroke="#333333" stroke-width="0.8"/>
<text x="65.20" y="558.80" font-size="7.0" fill="#4D4D4D" text-anchor="end" stroke="#4D4D4D" stroke-width="0.12" textLength="24.90" lengthAdjust="spacingAndGlyphs">Bacterial</text>
<line x1="67.00" y1="585.40" x2="69.30" y2="585.40" stroke="#333333" stroke-width="0.8"/>
<text x="65.20" y="587.80" font-size="7.0" fill="#4D4D4D" text-anchor="end" stroke="#4D4D4D" stroke-width="0.12" textLength="12.69" lengthAdjust="spacingAndGlyphs">Viral</text>
<line x1="67.00" y1="614.40" x2="69.30" y2="614.40" stroke="#333333" stroke-width="0.8"/>
<text x="65.20" y="616.80" font-size="7.0" fill="#4D4D4D" text-anchor="end" stroke="#4D4D4D" stroke-width="0.12" textLength="16.01" lengthAdjust="spacingAndGlyphs">Other</text>
<line x1="115.60" y1="631.30" x2="115.60" y2="633.60" stroke="#333333" stroke-width="0.8"/>
<text x="115.60" y="640.50" font-size="7.0" fill="#4D4D4D" text-anchor="middle" stroke="#4D4D4D" stroke-width="0.12" textLength="8.30" lengthAdjust="spacingAndGlyphs">1.0</text>
<line x1="155.25" y1="631.30" x2="155.25" y2="633.60" stroke="#333333" stroke-width="0.8"/>
<text x="155.25" y="640.50" font-size="7.0" fill="#4D4D4D" text-anchor="middle" stroke="#4D4D4D" stroke-width="0.12" textLength="8.30" lengthAdjust="spacingAndGlyphs">1.5</text>
<line x1="194.90" y1="631.30" x2="194.90" y2="633.60" stroke="#333333" stroke-width="0.8"/>
<text x="194.90" y="640.50" font-size="7.0" fill="#4D4D4D" text-anchor="middle" stroke="#4D4D4D" stroke-width="0.12" textLength="8.30" lengthAdjust="spacingAndGlyphs">2.0</text>
<line x1="234.55" y1="631.30" x2="234.55" y2="633.60" stroke="#333333" stroke-width="0.8"/>
<text x="234.55" y="640.50" font-size="7.0" fill="#4D4D4D" text-anchor="middle" stroke="#4D4D4D" stroke-width="0.12" textLength="8.30" lengthAdjust="spacingAndGlyphs">2.5</text>
<line x1="274.20" y1="631.30" x2="274.20" y2="633.60" stroke="#333333" stroke-width="0.8"/>
<text x="274.20" y="640.50" font-size="7.0" fill="#4D4D4D" text-anchor="middle" stroke="#4D4D4D" stroke-width="0.12" textLength="8.30" lengthAdjust="spacingAndGlyphs">3.0</text>
<text x="179.35" y="649.80" font-size="8.6" fill="#000" text-anchor="middle" stroke="#000" stroke-width="0.12" textLength="74.73" lengthAdjust="spacingAndGlyphs">Incidence Rate Ratio</text>
<text x="9.00" y="473.80" font-size="8.8" fill="#000" text-anchor="middle" transform="rotate(-90 9.00 473.80)" stroke="#000" stroke-width="0.12" textLength="30.62" lengthAdjust="spacingAndGlyphs">Infection</text>
<line x1="294.50" y1="459.90" x2="294.50" y2="467.70" stroke="#7ECAA1" stroke-width="1.3"/>
<circle cx="294.5" cy="463.8" r="2.05" fill="#3AA874"/>
<text x="303.90" y="466.20" font-size="6.95" fill="#000" text-anchor="start" stroke="#000" stroke-width="0.12" textLength="18.71" lengthAdjust="spacingAndGlyphs">During</text>
<line x1="294.50" y1="469.85" x2="294.50" y2="477.65" stroke="#EBC77C" stroke-width="1.3"/>
<circle cx="294.5" cy="473.75" r="2.05" fill="#E2A228"/>
<text x="303.90" y="476.15" font-size="6.95" fill="#000" text-anchor="start" stroke="#000" stroke-width="0.12" textLength="18.71" lengthAdjust="spacingAndGlyphs">Before</text>
<line x1="294.50" y1="479.85" x2="294.50" y2="487.65" stroke="#8CB5D7" stroke-width="1.3"/>
<circle cx="294.5" cy="483.75" r="2.05" fill="#2F75B5"/>
<text x="303.90" y="486.15" font-size="6.95" fill="#000" text-anchor="start" stroke="#000" stroke-width="0.12" textLength="13.41" lengthAdjust="spacingAndGlyphs">After</text>
<text x="388.80" y="305.80" font-size="14.9" fill="#000" text-anchor="start" stroke="#000" stroke-width="0.12" textLength="185.73" lengthAdjust="spacingAndGlyphs">D. Incidence Rate Differences</text>
<line x1="444.52" y1="315.90" x2="444.52" y2="350.30" stroke="#F2F2F2" stroke-width="0.4"/>
<line x1="489.04" y1="315.90" x2="489.04" y2="350.30" stroke="#F2F2F2" stroke-width="0.4"/>
<line x1="533.56" y1="315.90" x2="533.56" y2="350.30" stroke="#F2F2F2" stroke-width="0.4"/>
<line x1="578.08" y1="315.90" x2="578.08" y2="350.30" stroke="#F2F2F2" stroke-width="0.4"/>
<line x1="413.50" y1="333.10" x2="609.40" y2="333.10" stroke="#EBEBEB" stroke-width="0.6"/>
<line x1="422.26" y1="315.90" x2="422.26" y2="350.30" stroke="#EBEBEB" stroke-width="0.6"/>
<line x1="466.78" y1="315.90" x2="466.78" y2="350.30" stroke="#EBEBEB" stroke-width="0.6"/>
<line x1="511.30" y1="315.90" x2="511.30" y2="350.30" stroke="#EBEBEB" stroke-width="0.6"/>
<line x1="555.82" y1="315.90" x2="555.82" y2="350.30" stroke="#EBEBEB" stroke-width="0.6"/>
<line x1="600.34" y1="315.90" x2="600.34" y2="350.30" stroke="#EBEBEB" stroke-width="0.6"/>
<line x1="511.30" y1="350.30" x2="511.30" y2="315.90" stroke="#A0A0A0" stroke-width="0.6" stroke-dasharray="3.96 3.96"/>
<line x1="444.52" y1="354.60" x2="444.52" y2="534.30" stroke="#F2F2F2" stroke-width="0.4"/>
<line x1="489.04" y1="354.60" x2="489.04" y2="534.30" stroke="#F2F2F2" stroke-width="0.4"/>
<line x1="533.56" y1="354.60" x2="533.56" y2="534.30" stroke="#F2F2F2" stroke-width="0.4"/>
<line x1="578.08" y1="354.60" x2="578.08" y2="534.30" stroke="#F2F2F2" stroke-width="0.4"/>
<line x1="413.50" y1="372.10" x2="609.40" y2="372.10" stroke="#EBEBEB" stroke-width="0.6"/>
<line x1="413.50" y1="401.16" x2="609.40" y2="401.16" stroke="#EBEBEB" stroke-width="0.6"/>
<line x1="413.50" y1="430.22" x2="609.40" y2="430.22" stroke="#EBEBEB" stroke-width="0.6"/>
<line x1="413.50" y1="459.28" x2="609.40" y2="459.28" stroke="#EBEBEB" stroke-width="0.6"/>
<line x1="413.50" y1="488.34" x2="609.40" y2="488.34" stroke="#EBEBEB" stroke-width="0.6"/>
<line x1="413.50" y1="517.40" x2="609.40" y2="517.40" stroke="#EBEBEB" stroke-width="0.6"/>
<line x1="422.26" y1="354.60" x2="422.26" y2="534.30" stroke="#EBEBEB" stroke-width="0.6"/>
<line x1="466.78" y1="354.60" x2="466.78" y2="534.30" stroke="#EBEBEB" stroke-width="0.6"/>
<line x1="511.30" y1="354.60" x2="511.30" y2="534.30" stroke="#EBEBEB" stroke-width="0.6"/>
<line x1="555.82" y1="354.60" x2="555.82" y2="534.30" stroke="#EBEBEB" stroke-width="0.6"/>
<line x1="600.34" y1="354.60" x2="600.34" y2="534.30" stroke="#EBEBEB" stroke-width="0.6"/>
<line x1="511.30" y1="534.30" x2="511.30" y2="354.60" stroke="#A0A0A0" stroke-width="0.6" stroke-dasharray="3.96 3.96"/>
<line x1="444.52" y1="539.30" x2="444.52" y2="631.30" stroke="#F2F2F2" stroke-width="0.4"/>
<line x1="489.04" y1="539.30" x2="489.04" y2="631.30" stroke="#F2F2F2" stroke-width="0.4"/>
<line x1="533.56" y1="539.30" x2="533.56" y2="631.30" stroke="#F2F2F2" stroke-width="0.4"/>
<line x1="578.08" y1="539.30" x2="578.08" y2="631.30" stroke="#F2F2F2" stroke-width="0.4"/>
<line x1="413.50" y1="556.40" x2="609.40" y2="556.40" stroke="#EBEBEB" stroke-width="0.6"/>
<line x1="413.50" y1="585.40" x2="609.40" y2="585.40" stroke="#EBEBEB" stroke-width="0.6"/>
<line x1="413.50" y1="614.40" x2="609.40" y2="614.40" stroke="#EBEBEB" stroke-width="0.6"/>
<line x1="422.26" y1="539.30" x2="422.26" y2="631.30" stroke="#EBEBEB" stroke-width="0.6"/>
<line x1="466.78" y1="539.30" x2="466.78" y2="631.30" stroke="#EBEBEB" stroke-width="0.6"/>
<line x1="511.30" y1="539.30" x2="511.30" y2="631.30" stroke="#EBEBEB" stroke-width="0.6"/>
<line x1="555.82" y1="539.30" x2="555.82" y2="631.30" stroke="#EBEBEB" stroke-width="0.6"/>
<line x1="600.34" y1="539.30" x2="600.34" y2="631.30" stroke="#EBEBEB" stroke-width="0.6"/>
<line x1="511.30" y1="631.30" x2="511.30" y2="539.30" stroke="#A0A0A0" stroke-width="0.6" stroke-dasharray="3.96 3.96"/>
<line x1="502.00" y1="328.25" x2="515.20" y2="328.25" stroke="#7ECAA1" stroke-width="1.3"/>
<line x1="511.20" y1="333.10" x2="523.60" y2="333.10" stroke="#EBC77C" stroke-width="1.3"/>
<line x1="513.20" y1="337.95" x2="526.90" y2="337.95" stroke="#8CB5D7" stroke-width="1.3"/>
<circle cx="508.6" cy="328.25" r="2.05" fill="#3AA874"/>
<circle cx="517.2" cy="333.10" r="2.05" fill="#E2A228"/>
<circle cx="519.9" cy="337.95" r="2.05" fill="#2F75B5"/>
<line x1="454.10" y1="367.25" x2="522.10" y2="367.25" stroke="#7ECAA1" stroke-width="1.3"/>
<line x1="514.50" y1="372.10" x2="537.30" y2="372.10" stroke="#EBC77C" stroke-width="1.3"/>
<line x1="514.50" y1="376.95" x2="584.00" y2="376.95" stroke="#8CB5D7" stroke-width="1.3"/>
<circle cx="488.2" cy="367.25" r="2.05" fill="#3AA874"/>
<circle cx="525.9" cy="372.10" r="2.05" fill="#E2A228"/>
<circle cx="549.3" cy="376.95" r="2.05" fill="#2F75B5"/>
<line x1="504.90" y1="396.31" x2="537.00" y2="396.31" stroke="#7ECAA1" stroke-width="1.3"/>
<line x1="520.10" y1="401.16" x2="550.70" y2="401.16" stroke="#EBC77C" stroke-width="1.3"/>
<line x1="511.00" y1="406.01" x2="540.80" y2="406.01" stroke="#8CB5D7" stroke-width="1.3"/>
<circle cx="521" cy="396.31" r="2.05" fill="#3AA874"/>
<circle cx="535" cy="401.16" r="2.05" fill="#E2A228"/>
<circle cx="525.9" cy="406.01" r="2.05" fill="#2F75B5"/>
<line x1="484.70" y1="425.37" x2="526.50" y2="425.37" stroke="#7ECAA1" stroke-width="1.3"/>
<line x1="497.00" y1="430.22" x2="536.10" y2="430.22" stroke="#EBC77C" stroke-width="1.3"/>
<line x1="502.60" y1="435.07" x2="542.80" y2="435.07" stroke="#8CB5D7" stroke-width="1.3"/>
<circle cx="505.5" cy="425.37" r="2.05" fill="#3AA874"/>
<circle cx="516.9" cy="430.22" r="2.05" fill="#E2A228"/>
<circle cx="522.7" cy="435.07" r="2.05" fill="#2F75B5"/>
<line x1="487.10" y1="454.43" x2="529.70" y2="454.43" stroke="#7ECAA1" stroke-width="1.3"/>
<line x1="478.90" y1="459.28" x2="523.90" y2="459.28" stroke="#EBC77C" stroke-width="1.3"/>
<line x1="482.70" y1="464.13" x2="526.80" y2="464.13" stroke="#8CB5D7" stroke-width="1.3"/>
<circle cx="508.4" cy="454.43" r="2.05" fill="#3AA874"/>
<circle cx="501.7" cy="459.28" r="2.05" fill="#E2A228"/>
<circle cx="504.6" cy="464.13" r="2.05" fill="#2F75B5"/>
<line x1="488.20" y1="483.49" x2="540.80" y2="483.49" stroke="#7ECAA1" stroke-width="1.3"/>
<line x1="494.10" y1="488.34" x2="549.60" y2="488.34" stroke="#EBC77C" stroke-width="1.3"/>
<line x1="488.80" y1="493.19" x2="548.10" y2="493.19" stroke="#8CB5D7" stroke-width="1.3"/>
<circle cx="514.8" cy="483.49" r="2.05" fill="#3AA874"/>
<circle cx="521.8" cy="488.34" r="2.05" fill="#E2A228"/>
<circle cx="518.6" cy="493.19" r="2.05" fill="#2F75B5"/>
<line x1="483.00" y1="512.55" x2="527.10" y2="512.55" stroke="#7ECAA1" stroke-width="1.3"/>
<line x1="483.00" y1="517.40" x2="529.10" y2="517.40" stroke="#EBC77C" stroke-width="1.3"/>
<line x1="496.70" y1="522.25" x2="528.80" y2="522.25" stroke="#8CB5D7" stroke-width="1.3"/>
<circle cx="504.9" cy="512.55" r="2.05" fill="#3AA874"/>
<circle cx="506.4" cy="517.40" r="2.05" fill="#E2A228"/>
<circle cx="512.5" cy="522.25" r="2.05" fill="#2F75B5"/>
<line x1="497.00" y1="551.55" x2="513.90" y2="551.55" stroke="#7ECAA1" stroke-width="1.3"/>
<line x1="507.20" y1="556.40" x2="521.80" y2="556.40" stroke="#EBC77C" stroke-width="1.3"/>
<line x1="511.90" y1="561.25" x2="529.40" y2="561.25" stroke="#8CB5D7" stroke-width="1.3"/>
<circle cx="505.2" cy="551.55" r="2.05" fill="#3AA874"/>
<circle cx="514.5" cy="556.40" r="2.05" fill="#E2A228"/>
<circle cx="520.7" cy="561.25" r="2.05" fill="#2F75B5"/>
<line x1="488.20" y1="580.55" x2="533.50" y2="580.55" stroke="#7ECAA1" stroke-width="1.3"/>
<line x1="488.80" y1="585.40" x2="534.70" y2="585.40" stroke="#EBC77C" stroke-width="1.3"/>
<line x1="488.00" y1="590.25" x2="537.30" y2="590.25" stroke="#8CB5D7" stroke-width="1.3"/>
<circle cx="511" cy="580.55" r="2.05" fill="#3AA874"/>
<circle cx="511.9" cy="585.40" r="2.05" fill="#E2A228"/>
<circle cx="512.5" cy="590.25" r="2.05" fill="#2F75B5"/>
<line x1="485.00" y1="609.55" x2="520.90" y2="609.55" stroke="#7ECAA1" stroke-width="1.3"/>
<line x1="502.30" y1="614.40" x2="532.30" y2="614.40" stroke="#EBC77C" stroke-width="1.3"/>
<line x1="507.50" y1="619.25" x2="544.60" y2="619.25" stroke="#8CB5D7" stroke-width="1.3"/>
<circle cx="502.8" cy="609.55" r="2.05" fill="#3AA874"/>
<circle cx="517.4" cy="614.40" r="2.05" fill="#E2A228"/>
<circle cx="525.9" cy="619.25" r="2.05" fill="#2F75B5"/>
<rect x="401.5" y="315.9" width="12.0" height="34.400000000000034" fill="#D9D9D9" stroke="#333333" stroke-width="0.55"/>
<rect x="413.5" y="315.9" width="195.89999999999998" height="34.400000000000034" fill="none" stroke="#333333" stroke-width="0.55"/>
<text x="410.00" y="333.10" font-size="6.85" fill="#1A1A1A" text-anchor="middle" transform="rotate(-90 410.00 333.10)" stroke="#1A1A1A" stroke-width="0.12" textLength="7.08" lengthAdjust="spacingAndGlyphs">All</text>
<rect x="401.5" y="354.6" width="12.0" height="179.69999999999993" fill="#D9D9D9" stroke="#333333" stroke-width="0.55"/>
<rect x="413.5" y="354.6" width="195.89999999999998" height="179.69999999999993" fill="none" stroke="#333333" stroke-width="0.55"/>
<text x="410.00" y="444.45" font-size="6.85" fill="#1A1A1A" text-anchor="middle" transform="rotate(-90 410.00 444.45)" stroke="#1A1A1A" stroke-width="0.12" textLength="19.12" lengthAdjust="spacingAndGlyphs">By site</text>
<rect x="401.5" y="539.3" width="12.0" height="92.0" fill="#D9D9D9" stroke="#333333" stroke-width="0.55"/>
<rect x="413.5" y="539.3" width="195.89999999999998" height="92.0" fill="none" stroke="#333333" stroke-width="0.55"/>
<text x="410.00" y="585.30" font-size="6.85" fill="#1A1A1A" text-anchor="middle" transform="rotate(-90 410.00 585.30)" stroke="#1A1A1A" stroke-width="0.12" textLength="35.77" lengthAdjust="spacingAndGlyphs">By pathogen</text>
<line x1="399.20" y1="333.10" x2="401.50" y2="333.10" stroke="#333333" stroke-width="0.8"/>
<text x="397.00" y="335.50" font-size="7.0" fill="#4D4D4D" text-anchor="end" stroke="#4D4D4D" stroke-width="0.12" textLength="36.64" lengthAdjust="spacingAndGlyphs">Any infection</text>
<line x1="399.20" y1="372.10" x2="401.50" y2="372.10" stroke="#333333" stroke-width="0.8"/>
<text x="397.00" y="374.50" font-size="7.0" fill="#4D4D4D" text-anchor="end" stroke="#4D4D4D" stroke-width="0.12" textLength="52.30" lengthAdjust="spacingAndGlyphs">Pregnancy-related</text>
<line x1="399.20" y1="401.16" x2="401.50" y2="401.16" stroke="#333333" stroke-width="0.8"/>
<text x="397.00" y="403.56" font-size="7.0" fill="#4D4D4D" text-anchor="end" stroke="#4D4D4D" stroke-width="0.12" textLength="44.47" lengthAdjust="spacingAndGlyphs">Gastrointestinal</text>
<line x1="399.20" y1="430.22" x2="401.50" y2="430.22" stroke="#333333" stroke-width="0.8"/>
<text x="397.00" y="432.62" font-size="7.0" fill="#4D4D4D" text-anchor="end" stroke="#4D4D4D" stroke-width="0.12" textLength="12.45" lengthAdjust="spacingAndGlyphs">Skin</text>
<line x1="399.20" y1="459.28" x2="401.50" y2="459.28" stroke="#333333" stroke-width="0.8"/>
<text x="397.00" y="461.68" font-size="7.0" fill="#4D4D4D" text-anchor="end" stroke="#4D4D4D" stroke-width="0.12" textLength="32.72" lengthAdjust="spacingAndGlyphs">Respiratory</text>
<line x1="399.20" y1="488.34" x2="401.50" y2="488.34" stroke="#333333" stroke-width="0.8"/>
<text x="397.00" y="490.74" font-size="7.0" fill="#4D4D4D" text-anchor="end" stroke="#4D4D4D" stroke-width="0.12" textLength="28.46" lengthAdjust="spacingAndGlyphs">Urological</text>
<line x1="399.20" y1="517.40" x2="401.50" y2="517.40" stroke="#333333" stroke-width="0.8"/>
<text x="397.00" y="519.80" font-size="7.0" fill="#4D4D4D" text-anchor="end" stroke="#4D4D4D" stroke-width="0.12" textLength="20.28" lengthAdjust="spacingAndGlyphs">Genital</text>
<line x1="399.20" y1="556.40" x2="401.50" y2="556.40" stroke="#333333" stroke-width="0.8"/>
<text x="397.00" y="558.80" font-size="7.0" fill="#4D4D4D" text-anchor="end" stroke="#4D4D4D" stroke-width="0.12" textLength="24.90" lengthAdjust="spacingAndGlyphs">Bacterial</text>
<line x1="399.20" y1="585.40" x2="401.50" y2="585.40" stroke="#333333" stroke-width="0.8"/>
<text x="397.00" y="587.80" font-size="7.0" fill="#4D4D4D" text-anchor="end" stroke="#4D4D4D" stroke-width="0.12" textLength="12.69" lengthAdjust="spacingAndGlyphs">Viral</text>
<line x1="399.20" y1="614.40" x2="401.50" y2="614.40" stroke="#333333" stroke-width="0.8"/>
<text x="397.00" y="616.80" font-size="7.0" fill="#4D4D4D" text-anchor="end" stroke="#4D4D4D" stroke-width="0.12" textLength="16.01" lengthAdjust="spacingAndGlyphs">Other</text>
<line x1="422.26" y1="631.30" x2="422.26" y2="633.60" stroke="#333333" stroke-width="0.8"/>
<text x="422.26" y="640.50" font-size="7.0" fill="#4D4D4D" text-anchor="middle" stroke="#4D4D4D" stroke-width="0.12" textLength="11.95" lengthAdjust="spacingAndGlyphs">-200</text>
<line x1="466.78" y1="631.30" x2="466.78" y2="633.60" stroke="#333333" stroke-width="0.8"/>
<text x="466.78" y="640.50" font-size="7.0" fill="#4D4D4D" text-anchor="middle" stroke="#4D4D4D" stroke-width="0.12" textLength="11.95" lengthAdjust="spacingAndGlyphs">-100</text>
<line x1="511.30" y1="631.30" x2="511.30" y2="633.60" stroke="#333333" stroke-width="0.8"/>
<text x="511.30" y="640.50" font-size="7.0" fill="#4D4D4D" text-anchor="middle" stroke="#4D4D4D" stroke-width="0.12" textLength="3.32" lengthAdjust="spacingAndGlyphs">0</text>
<line x1="555.82" y1="631.30" x2="555.82" y2="633.60" stroke="#333333" stroke-width="0.8"/>
<text x="555.82" y="640.50" font-size="7.0" fill="#4D4D4D" text-anchor="middle" stroke="#4D4D4D" stroke-width="0.12" textLength="9.96" lengthAdjust="spacingAndGlyphs">100</text>
<line x1="600.34" y1="631.30" x2="600.34" y2="633.60" stroke="#333333" stroke-width="0.8"/>
<text x="600.34" y="640.50" font-size="7.0" fill="#4D4D4D" text-anchor="middle" stroke="#4D4D4D" stroke-width="0.12" textLength="9.96" lengthAdjust="spacingAndGlyphs">200</text>
<text x="511.45" y="649.70" font-size="8.6" fill="#000" text-anchor="middle" stroke="#000" stroke-width="0.12" textLength="92.48" lengthAdjust="spacingAndGlyphs">Incidence Rate Difference</text>
<text x="511.45" y="658.20" font-size="8.6" fill="#000" text-anchor="middle" stroke="#000" stroke-width="0.12" textLength="88.16" lengthAdjust="spacingAndGlyphs">per 100,000 person-year</text>
<line x1="626.60" y1="459.90" x2="626.60" y2="467.70" stroke="#7ECAA1" stroke-width="1.3"/>
<circle cx="626.6" cy="463.8" r="2.05" fill="#3AA874"/>
<text x="636.10" y="466.20" font-size="6.95" fill="#000" text-anchor="start" stroke="#000" stroke-width="0.12" textLength="47.29" lengthAdjust="spacingAndGlyphs">During vs Before</text>
<line x1="626.60" y1="469.85" x2="626.60" y2="477.65" stroke="#EBC77C" stroke-width="1.3"/>
<circle cx="626.6" cy="473.75" r="2.05" fill="#E2A228"/>
<text x="636.10" y="476.15" font-size="6.95" fill="#000" text-anchor="start" stroke="#000" stroke-width="0.12" textLength="41.64" lengthAdjust="spacingAndGlyphs">During vs After</text>
<line x1="626.60" y1="479.85" x2="626.60" y2="487.65" stroke="#8CB5D7" stroke-width="1.3"/>
<circle cx="626.6" cy="483.75" r="2.05" fill="#2F75B5"/>
<text x="636.10" y="486.15" font-size="6.95" fill="#000" text-anchor="start" stroke="#000" stroke-width="0.12" textLength="41.65" lengthAdjust="spacingAndGlyphs">Before vs After</text>
</svg>
</body></html>
